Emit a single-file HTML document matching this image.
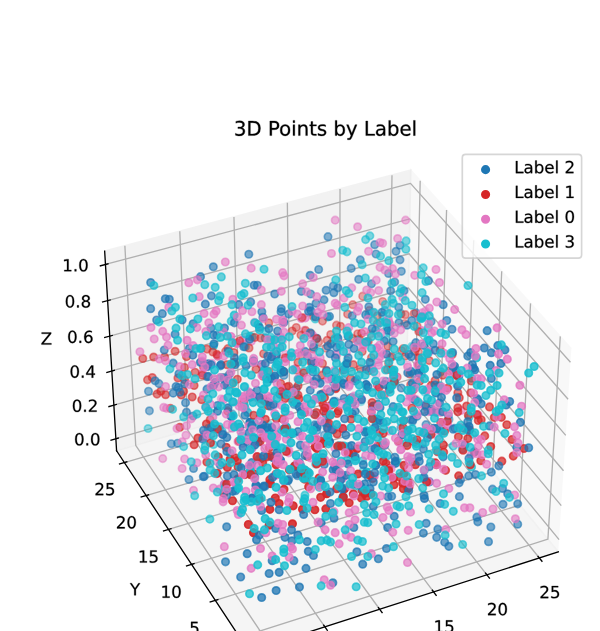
<!DOCTYPE html>
<html><head><meta charset="utf-8"><title>3D Points by Label</title>
<style>
html,body{margin:0;padding:0;background:#fff;}
body{width:600px;height:631px;overflow:hidden;font-family:"Liberation Sans",sans-serif;}
svg{display:block;}
g[id^="text_"] use{stroke:#000;stroke-width:100;stroke-linejoin:round}
.o30{fill-opacity:0.3;stroke-opacity:0.3}.o31{fill-opacity:0.31;stroke-opacity:0.31}.o32{fill-opacity:0.32;stroke-opacity:0.32}.o33{fill-opacity:0.33;stroke-opacity:0.33}.o34{fill-opacity:0.34;stroke-opacity:0.34}.o35{fill-opacity:0.35;stroke-opacity:0.35}.o36{fill-opacity:0.36;stroke-opacity:0.36}.o37{fill-opacity:0.37;stroke-opacity:0.37}.o38{fill-opacity:0.38;stroke-opacity:0.38}.o39{fill-opacity:0.39;stroke-opacity:0.39}.o40{fill-opacity:0.4;stroke-opacity:0.4}.o41{fill-opacity:0.41;stroke-opacity:0.41}.o42{fill-opacity:0.42;stroke-opacity:0.42}.o43{fill-opacity:0.43;stroke-opacity:0.43}.o44{fill-opacity:0.44;stroke-opacity:0.44}.o45{fill-opacity:0.45;stroke-opacity:0.45}.o46{fill-opacity:0.46;stroke-opacity:0.46}.o47{fill-opacity:0.47;stroke-opacity:0.47}.o48{fill-opacity:0.48;stroke-opacity:0.48}.o49{fill-opacity:0.49;stroke-opacity:0.49}.o50{fill-opacity:0.5;stroke-opacity:0.5}.o51{fill-opacity:0.51;stroke-opacity:0.51}.o52{fill-opacity:0.52;stroke-opacity:0.52}.o53{fill-opacity:0.53;stroke-opacity:0.53}.o54{fill-opacity:0.54;stroke-opacity:0.54}.o55{fill-opacity:0.55;stroke-opacity:0.55}.o56{fill-opacity:0.56;stroke-opacity:0.56}.o57{fill-opacity:0.57;stroke-opacity:0.57}.o58{fill-opacity:0.58;stroke-opacity:0.58}.o59{fill-opacity:0.59;stroke-opacity:0.59}.o60{fill-opacity:0.6;stroke-opacity:0.6}.o61{fill-opacity:0.61;stroke-opacity:0.61}.o62{fill-opacity:0.62;stroke-opacity:0.62}.o63{fill-opacity:0.63;stroke-opacity:0.63}.o64{fill-opacity:0.64;stroke-opacity:0.64}.o65{fill-opacity:0.65;stroke-opacity:0.65}.o66{fill-opacity:0.66;stroke-opacity:0.66}.o67{fill-opacity:0.67;stroke-opacity:0.67}.o68{fill-opacity:0.68;stroke-opacity:0.68}.o69{fill-opacity:0.69;stroke-opacity:0.69}.o70{fill-opacity:0.7;stroke-opacity:0.7}.o71{fill-opacity:0.71;stroke-opacity:0.71}.o72{fill-opacity:0.72;stroke-opacity:0.72}.o73{fill-opacity:0.73;stroke-opacity:0.73}.o74{fill-opacity:0.74;stroke-opacity:0.74}.o75{fill-opacity:0.75;stroke-opacity:0.75}.o76{fill-opacity:0.76;stroke-opacity:0.76}.o77{fill-opacity:0.77;stroke-opacity:0.77}.o78{fill-opacity:0.78;stroke-opacity:0.78}.o79{fill-opacity:0.79;stroke-opacity:0.79}.o80{fill-opacity:0.8;stroke-opacity:0.8}.o81{fill-opacity:0.81;stroke-opacity:0.81}.o82{fill-opacity:0.82;stroke-opacity:0.82}.o83{fill-opacity:0.83;stroke-opacity:0.83}.o84{fill-opacity:0.84;stroke-opacity:0.84}.o85{fill-opacity:0.85;stroke-opacity:0.85}.o86{fill-opacity:0.86;stroke-opacity:0.86}.o87{fill-opacity:0.87;stroke-opacity:0.87}.o88{fill-opacity:0.88;stroke-opacity:0.88}.o89{fill-opacity:0.89;stroke-opacity:0.89}.o90{fill-opacity:0.9;stroke-opacity:0.9}.o91{fill-opacity:0.91;stroke-opacity:0.91}.o92{fill-opacity:0.92;stroke-opacity:0.92}.o93{fill-opacity:0.93;stroke-opacity:0.93}.o95{fill-opacity:0.95;stroke-opacity:0.95}.o96{fill-opacity:0.96;stroke-opacity:0.96}.o97{fill-opacity:0.97;stroke-opacity:0.97}.o98{fill-opacity:0.98;stroke-opacity:0.98}.o100{fill-opacity:1;stroke-opacity:1}
</style></head><body>
<svg width="600" height="631" viewBox="0 0 360 378.6">
 <defs>
  <style type="text/css">*{stroke-linejoin: round; stroke-linecap: butt}</style>
 </defs>
 <g id="figure_1">
  <g id="patch_1">
   <path d="M 0 378.6 
L 360 378.6 
L 360 0 
L 0 0 
z
" style="fill: #ffffff"/>
  </g>
  <g id="patch_2">
   <path d="M 36.549567 404.417523 
L 354.056823 404.417523 
L 354.056823 86.910267 
L 36.549567 86.910267 
z
" style="fill: #ffffff"/>
  </g>
  <g id="pane3d_1">
   <g id="patch_3">
    <path d="M 334.979732 331.150698 
L 244.093565 219.975792 
L 246.455213 102.126044 
L 342.805927 209.211899 
" style="fill: #f2f2f2; opacity: 0.5; stroke: #f2f2f2; stroke-linejoin: miter"/>
   </g>
  </g>
  <g id="pane3d_2">
   <g id="patch_4">
    <path d="M 69.954804 270.486491 
L 244.093565 219.975792 
L 246.455213 102.126044 
L 62.796485 150.659851 
" style="fill: #e6e6e6; opacity: 0.5; stroke: #e6e6e6; stroke-linejoin: miter"/>
   </g>
  </g>
  <g id="pane3d_3">
   <g id="patch_5">
    <path d="M 149.328596 390.734936 
L 334.979732 331.150698 
L 244.093565 219.975792 
L 69.954804 270.486491 
" style="fill: #ececec; opacity: 0.5; stroke: #ececec; stroke-linejoin: miter"/>
   </g>
  </g>
  <g id="grid3d_1">
   <g id="Line3DCollection_1">
    <path d="M 156.781001 379.6 
L 81.433066 267.157106 
L 74.925294 147.454682 
" style="fill: none; stroke: #b0b0b0; stroke-width: 0.8"/>
    <path d="M 194.937987 376.096724 
L 112.631511 258.107683 
L 107.875496 138.747234 
" style="fill: none; stroke: #b0b0b0; stroke-width: 0.8"/>
    <path d="M 227.796251 365.550951 
L 143.419057 249.177446 
L 140.368159 130.160696 
" style="fill: none; stroke: #b0b0b0; stroke-width: 0.8"/>
    <path d="M 260.187712 355.154998 
L 173.803768 240.364055 
L 172.412746 121.692567 
" style="fill: none; stroke: #b0b0b0; stroke-width: 0.8"/>
    <path d="M 292.122247 344.905694 
L 203.793499 231.665232 
L 204.018463 113.340415 
" style="fill: none; stroke: #b0b0b0; stroke-width: 0.8"/>
    <path d="M 323.609456 334.799958 
L 233.395903 223.078757 
L 235.194263 105.101872 
" style="fill: none; stroke: #b0b0b0; stroke-width: 0.8"/>
   </g>
  </g>
  <g id="grid3d_2">
   <g id="Line3DCollection_2">
    <path d="M 336.165123 201.831194 
L 328.74168 323.520111 
L 152.825259 379.6 
" style="fill: none; stroke: #b0b0b0; stroke-width: 0.8"/>
    <path d="M 318.329406 182.008268 
L 311.968591 303.002724 
L 129.183595 360.215984 
" style="fill: none; stroke: #b0b0b0; stroke-width: 0.8"/>
    <path d="M 301.029524 162.780879 
L 295.672802 283.069187 
L 114.937502 338.633665 
" style="fill: none; stroke: #b0b0b0; stroke-width: 0.8"/>
    <path d="M 284.241689 144.122588 
L 279.834226 263.694928 
L 101.106961 317.680891 
" style="fill: none; stroke: #b0b0b0; stroke-width: 0.8"/>
    <path d="M 267.943497 126.008496 
L 264.433888 244.856734 
L 87.67405 297.330513 
" style="fill: none; stroke: #b0b0b0; stroke-width: 0.8"/>
    <path d="M 252.113836 108.415136 
L 249.453846 226.532661 
L 74.621864 277.55692 
" style="fill: none; stroke: #b0b0b0; stroke-width: 0.8"/>
   </g>
  </g>
  <g id="grid3d_3">
   <g id="Line3DCollection_3">
    <path d="M 69.521669 263.236034 
L 244.236737 212.8313 
L 335.452189 323.789408 
" style="fill: none; stroke: #b0b0b0; stroke-width: 0.8"/>
    <path d="M 68.318648 243.098073 
L 244.634208 192.996895 
L 336.765163 303.332168 
" style="fill: none; stroke: #b0b0b0; stroke-width: 0.8"/>
    <path d="M 67.093167 222.584128 
L 245.038821 172.806133 
L 338.103761 282.475661 
" style="fill: none; stroke: #b0b0b0; stroke-width: 0.8"/>
    <path d="M 65.844589 201.683571 
L 245.450768 152.249321 
L 339.468743 261.208082 
" style="fill: none; stroke: #b0b0b0; stroke-width: 0.8"/>
    <path d="M 64.572257 180.385366 
L 245.870253 131.316416 
L 340.860895 239.517158 
" style="fill: none; stroke: #b0b0b0; stroke-width: 0.8"/>
    <path d="M 63.275485 158.678058 
L 246.297483 109.996999 
L 342.281038 217.39012 
" style="fill: none; stroke: #b0b0b0; stroke-width: 0.8"/>
   </g>
  </g>
  <g id="axis3d_1">
   <g id="line2d_1">
    <path d="M 334.979732 331.150698 
L 184.022562 379.6 
" style="fill: none; stroke: #000000; stroke-width: 0.8; stroke-linecap: square"/>
   </g>
   <g id="xtick_1">
    <g id="line2d_2">
     <path style="fill: none; stroke: #000000; stroke-width: 0.8; stroke-linecap: square"/>
    </g>
    <g id="text_1">
     <!-- 0 -->
     <g transform="translate(164.648599 411.588777) scale(0.1 -0.1)">
      <defs>
       <path id="DejaVuSans-30" d="M 2034 4250 
Q 1547 4250 1301 3770 
Q 1056 3291 1056 2328 
Q 1056 1369 1301 889 
Q 1547 409 2034 409 
Q 2525 409 2770 889 
Q 3016 1369 3016 2328 
Q 3016 3291 2770 3770 
Q 2525 4250 2034 4250 
z
M 2034 4750 
Q 2819 4750 3233 4129 
Q 3647 3509 3647 2328 
Q 3647 1150 3233 529 
Q 2819 -91 2034 -91 
Q 1250 -91 836 529 
Q 422 1150 422 2328 
Q 422 3509 836 4129 
Q 1250 4750 2034 4750 
z
" transform="scale(0.015625)"/>
      </defs>
      <use href="#DejaVuSans-30"/>
     </g>
    </g>
   </g>
   <g id="xtick_2">
    <g id="line2d_3">
     <path d="M 194.222743 375.071399 
L 196.371465 378.151662 
" style="fill: none; stroke: #000000; stroke-width: 0.8; stroke-linecap: square"/>
    </g>
    <g id="text_2">
     <!-- 5 -->
     <g transform="translate(198.010046 400.742913) scale(0.1 -0.1)">
      <defs>
       <path id="DejaVuSans-35" d="M 691 4666 
L 3169 4666 
L 3169 4134 
L 1269 4134 
L 1269 2991 
Q 1406 3038 1543 3061 
Q 1681 3084 1819 3084 
Q 2600 3084 3056 2656 
Q 3513 2228 3513 1497 
Q 3513 744 3044 326 
Q 2575 -91 1722 -91 
Q 1428 -91 1123 -41 
Q 819 9 494 109 
L 494 744 
Q 775 591 1075 516 
Q 1375 441 1709 441 
Q 2250 441 2565 725 
Q 2881 1009 2881 1497 
Q 2881 1984 2565 2268 
Q 2250 2553 1709 2553 
Q 1456 2553 1204 2497 
Q 953 2441 691 2322 
L 691 4666 
z
" transform="scale(0.015625)"/>
      </defs>
      <use href="#DejaVuSans-35"/>
     </g>
    </g>
   </g>
   <g id="xtick_3">
    <g id="line2d_4">
     <path d="M 227.06343 364.540239 
L 229.264938 367.576571 
" style="fill: none; stroke: #000000; stroke-width: 0.8; stroke-linecap: square"/>
    </g>
    <g id="text_3">
     <!-- 10 -->
     <g transform="translate(227.711889 390.052564) scale(0.1 -0.1)">
      <defs>
       <path id="DejaVuSans-31" d="M 794 531 
L 1825 531 
L 1825 4091 
L 703 3866 
L 703 4441 
L 1819 4666 
L 2450 4666 
L 2450 531 
L 3481 531 
L 3481 0 
L 794 0 
L 794 531 
z
" transform="scale(0.015625)"/>
      </defs>
      <use href="#DejaVuSans-31"/>
      <use href="#DejaVuSans-30" transform="translate(63.623047 0)"/>
     </g>
    </g>
   </g>
   <g id="xtick_4">
    <g id="line2d_5">
     <path d="M 259.437882 354.158589 
L 261.690464 357.151924 
" style="fill: none; stroke: #000000; stroke-width: 0.8; stroke-linecap: square"/>
    </g>
    <g id="text_4">
     <!-- 15 -->
     <g transform="translate(260.126842 379.514407) scale(0.1 -0.1)">
      <use href="#DejaVuSans-31"/>
      <use href="#DejaVuSans-35" transform="translate(63.623047 0)"/>
     </g>
    </g>
   </g>
   <g id="xtick_5">
    <g id="line2d_6">
     <path d="M 291.355959 343.923286 
L 293.65796 346.874531 
" style="fill: none; stroke: #000000; stroke-width: 0.8; stroke-linecap: square"/>
    </g>
    <g id="text_5">
     <!-- 20 -->
     <g transform="translate(292.083581 369.125216) scale(0.1 -0.1)">
      <defs>
       <path id="DejaVuSans-32" d="M 1228 531 
L 3431 531 
L 3431 0 
L 469 0 
L 469 531 
Q 828 903 1448 1529 
Q 2069 2156 2228 2338 
Q 2531 2678 2651 2914 
Q 2772 3150 2772 3378 
Q 2772 3750 2511 3984 
Q 2250 4219 1831 4219 
Q 1534 4219 1204 4116 
Q 875 4013 500 3803 
L 500 4441 
Q 881 4594 1212 4672 
Q 1544 4750 1819 4750 
Q 2544 4750 2975 4387 
Q 3406 4025 3406 3419 
Q 3406 3131 3298 2873 
Q 3191 2616 2906 2266 
Q 2828 2175 2409 1742 
Q 1991 1309 1228 531 
z
" transform="scale(0.015625)"/>
      </defs>
      <use href="#DejaVuSans-32"/>
      <use href="#DejaVuSans-30" transform="translate(63.623047 0)"/>
     </g>
    </g>
   </g>
   <g id="xtick_6">
    <g id="line2d_7">
     <path d="M 322.827242 333.831259 
L 325.177062 336.741294 
" style="fill: none; stroke: #000000; stroke-width: 0.8; stroke-linecap: square"/>
    </g>
    <g id="text_6">
     <!-- 25 -->
     <g transform="translate(323.591755 358.881855) scale(0.1 -0.1)">
      <use href="#DejaVuSans-32"/>
      <use href="#DejaVuSans-35" transform="translate(63.623047 0)"/>
     </g>
    </g>
   </g>
   <g id="text_7">
    <!-- X -->
    <g transform="translate(254.332717 399.775613) scale(0.1 -0.1)">
     <defs>
      <path id="DejaVuSans-58" d="M 403 4666 
L 1081 4666 
L 2241 2931 
L 3406 4666 
L 4084 4666 
L 2584 2425 
L 4184 0 
L 3506 0 
L 2194 1984 
L 872 0 
L 191 0 
L 1856 2491 
L 403 4666 
z
" transform="scale(0.015625)"/>
     </defs>
     <use href="#DejaVuSans-58"/>
    </g>
   </g>
  </g>
  <g id="axis3d_2">
   <g id="line2d_8">
    <path d="M 69.954804 270.486491 
L 141.978629 379.6 
" style="fill: none; stroke: #000000; stroke-width: 0.8; stroke-linecap: square"/>
   </g>
   <g id="xtick_7">
    <g id="line2d_9">
     <path style="fill: none; stroke: #000000; stroke-width: 0.8; stroke-linecap: square"/>
    </g>
    <g id="text_8" transform="translate(0.5 0.4)">
     <!-- 0 -->
     <g transform="translate(127.526515 402.412792) scale(0.1 -0.1)">
      <use href="#DejaVuSans-30"/>
     </g>
    </g>
   </g>
   <g id="xtick_8">
    <g id="line2d_10">
     <path d="M 130.705094 359.739741 
L 126.137613 361.169402 
" style="fill: none; stroke: #000000; stroke-width: 0.8; stroke-linecap: square"/>
    </g>
    <g id="text_9" transform="translate(0.5 0.4)">
     <!-- 5 -->
     <g transform="translate(113.05852 380.009719) scale(0.1 -0.1)">
      <use href="#DejaVuSans-35"/>
     </g>
    </g>
   </g>
   <g id="xtick_9">
    <g id="line2d_11">
     <path d="M 116.441073 338.171413 
L 111.927455 339.55906 
" style="fill: none; stroke: #000000; stroke-width: 0.8; stroke-linecap: square"/>
    </g>
    <g id="text_10" transform="translate(0.5 0.4)">
     <!-- 10 -->
     <g transform="translate(95.837106 358.269128) scale(0.1 -0.1)">
      <use href="#DejaVuSans-31"/>
      <use href="#DejaVuSans-30" transform="translate(63.623047 0)"/>
     </g>
    </g>
   </g>
   <g id="xtick_10">
    <g id="line2d_12">
     <path d="M 102.592995 317.232022 
L 98.132063 318.579482 
" style="fill: none; stroke: #000000; stroke-width: 0.8; stroke-linecap: square"/>
    </g>
    <g id="text_11" transform="translate(0.5 0.4)">
     <!-- 15 -->
     <g transform="translate(82.206075 337.16206) scale(0.1 -0.1)">
      <use href="#DejaVuSans-31"/>
      <use href="#DejaVuSans-35" transform="translate(63.623047 0)"/>
     </g>
    </g>
   </g>
   <g id="xtick_11">
    <g id="line2d_13">
     <path d="M 89.142926 296.894455 
L 84.733539 298.203447 
" style="fill: none; stroke: #000000; stroke-width: 0.8; stroke-linecap: square"/>
    </g>
    <g id="text_12" transform="translate(0.5 0.4)">
     <!-- 20 -->
     <g transform="translate(68.96655 316.661222) scale(0.1 -0.1)">
      <use href="#DejaVuSans-32"/>
      <use href="#DejaVuSans-30" transform="translate(63.623047 0)"/>
     </g>
    </g>
   </g>
   <g id="xtick_12">
    <g id="line2d_14">
     <path d="M 76.073952 277.133132 
L 71.715 278.405281 
" style="fill: none; stroke: #000000; stroke-width: 0.8; stroke-linecap: square"/>
    </g>
    <g id="text_13" transform="translate(0.5 0.4)">
     <!-- 25 -->
     <g transform="translate(56.101903 296.740866) scale(0.1 -0.1)">
      <use href="#DejaVuSans-32"/>
      <use href="#DejaVuSans-35" transform="translate(63.623047 0)"/>
     </g>
    </g>
   </g>
   <g id="text_14" transform="translate(0.5 0.4)">
    <!-- Y -->
    <g transform="translate(77.477666 356.807466) scale(0.1 -0.1)">
     <defs>
      <path id="DejaVuSans-59" d="M -13 4666 
L 666 4666 
L 1959 2747 
L 3244 4666 
L 3922 4666 
L 2272 2222 
L 2272 0 
L 1638 0 
L 1638 2222 
L -13 4666 
z
" transform="scale(0.015625)"/>
     </defs>
     <use href="#DejaVuSans-59"/>
    </g>
   </g>
  </g>
  <g id="axis3d_3">
   <g id="line2d_15">
    <path d="M 69.954804 270.486491 
L 62.796485 150.659851 
" style="fill: none; stroke: #000000; stroke-width: 0.8; stroke-linecap: square"/>
   </g>
   <g id="xtick_13">
    <g id="line2d_16">
     <path d="M 70.972689 262.817419 
L 66.616948 264.074036 
" style="fill: none; stroke: #000000; stroke-width: 0.8; stroke-linecap: square"/>
    </g>
    <g id="text_15" transform="translate(0.5 0.4)">
     <!-- 0.0 -->
     <g transform="translate(43.916752 266.814736) scale(0.1 -0.1)">
      <defs>
       <path id="DejaVuSans-2e" d="M 684 794 
L 1344 794 
L 1344 0 
L 684 0 
L 684 794 
z
" transform="scale(0.015625)"/>
      </defs>
      <use href="#DejaVuSans-30"/>
      <use href="#DejaVuSans-2e" transform="translate(63.623047 0)"/>
      <use href="#DejaVuSans-30" transform="translate(95.410156 0)"/>
     </g>
    </g>
   </g>
   <g id="xtick_14">
    <g id="line2d_17">
     <path d="M 69.783458 242.681838 
L 65.386298 243.931319 
" style="fill: none; stroke: #000000; stroke-width: 0.8; stroke-linecap: square"/>
    </g>
    <g id="text_16" transform="translate(0.5 0.4)">
     <!-- 0.2 -->
     <g transform="translate(42.55453 246.699725) scale(0.1 -0.1)">
      <use href="#DejaVuSans-30"/>
      <use href="#DejaVuSans-2e" transform="translate(63.623047 0)"/>
      <use href="#DejaVuSans-32" transform="translate(95.410156 0)"/>
     </g>
    </g>
   </g>
   <g id="xtick_15">
    <g id="line2d_18">
     <path d="M 68.57203 222.170435 
L 64.132656 223.412293 
" style="fill: none; stroke: #000000; stroke-width: 0.8; stroke-linecap: square"/>
    </g>
    <g id="text_17" transform="translate(0.5 0.4)">
     <!-- 0.4 -->
     <g transform="translate(41.166951 226.210288) scale(0.1 -0.1)">
      <defs>
       <path id="DejaVuSans-34" d="M 2419 4116 
L 825 1625 
L 2419 1625 
L 2419 4116 
z
M 2253 4666 
L 3047 4666 
L 3047 1625 
L 3713 1625 
L 3713 1100 
L 3047 1100 
L 3047 0 
L 2419 0 
L 2419 1100 
L 313 1100 
L 313 1709 
L 2253 4666 
z
" transform="scale(0.015625)"/>
      </defs>
      <use href="#DejaVuSans-30"/>
      <use href="#DejaVuSans-2e" transform="translate(63.623047 0)"/>
      <use href="#DejaVuSans-34" transform="translate(95.410156 0)"/>
     </g>
    </g>
   </g>
   <g id="xtick_16">
    <g id="line2d_19">
     <path d="M 67.337779 201.27259 
L 62.855373 202.506313 
" style="fill: none; stroke: #000000; stroke-width: 0.8; stroke-linecap: square"/>
    </g>
    <g id="text_18" transform="translate(0.5 0.4)">
     <!-- 0.6 -->
     <g transform="translate(39.7533 205.335871) scale(0.1 -0.1)">
      <defs>
       <path id="DejaVuSans-36" d="M 2113 2584 
Q 1688 2584 1439 2293 
Q 1191 2003 1191 1497 
Q 1191 994 1439 701 
Q 1688 409 2113 409 
Q 2538 409 2786 701 
Q 3034 994 3034 1497 
Q 3034 2003 2786 2293 
Q 2538 2584 2113 2584 
z
M 3366 4563 
L 3366 3988 
Q 3128 4100 2886 4159 
Q 2644 4219 2406 4219 
Q 1781 4219 1451 3797 
Q 1122 3375 1075 2522 
Q 1259 2794 1537 2939 
Q 1816 3084 2150 3084 
Q 2853 3084 3261 2657 
Q 3669 2231 3669 1497 
Q 3669 778 3244 343 
Q 2819 -91 2113 -91 
Q 1303 -91 875 529 
Q 447 1150 447 2328 
Q 447 3434 972 4092 
Q 1497 4750 2381 4750 
Q 2619 4750 2861 4703 
Q 3103 4656 3366 4563 
z
" transform="scale(0.015625)"/>
      </defs>
      <use href="#DejaVuSans-30"/>
      <use href="#DejaVuSans-2e" transform="translate(63.623047 0)"/>
      <use href="#DejaVuSans-36" transform="translate(95.410156 0)"/>
     </g>
    </g>
   </g>
   <g id="xtick_17">
    <g id="line2d_20">
     <path d="M 66.080053 179.977276 
L 61.553774 181.20233 
" style="fill: none; stroke: #000000; stroke-width: 0.8; stroke-linecap: square"/>
    </g>
    <g id="text_19" transform="translate(0.5 0.4)">
     <!-- 0.8 -->
     <g transform="translate(38.312836 184.065523) scale(0.1 -0.1)">
      <defs>
       <path id="DejaVuSans-38" d="M 2034 2216 
Q 1584 2216 1326 1975 
Q 1069 1734 1069 1313 
Q 1069 891 1326 650 
Q 1584 409 2034 409 
Q 2484 409 2743 651 
Q 3003 894 3003 1313 
Q 3003 1734 2745 1975 
Q 2488 2216 2034 2216 
z
M 1403 2484 
Q 997 2584 770 2862 
Q 544 3141 544 3541 
Q 544 4100 942 4425 
Q 1341 4750 2034 4750 
Q 2731 4750 3128 4425 
Q 3525 4100 3525 3541 
Q 3525 3141 3298 2862 
Q 3072 2584 2669 2484 
Q 3125 2378 3379 2068 
Q 3634 1759 3634 1313 
Q 3634 634 3220 271 
Q 2806 -91 2034 -91 
Q 1263 -91 848 271 
Q 434 634 434 1313 
Q 434 1759 690 2068 
Q 947 2378 1403 2484 
z
M 1172 3481 
Q 1172 3119 1398 2916 
Q 1625 2713 2034 2713 
Q 2441 2713 2670 2916 
Q 2900 3119 2900 3481 
Q 2900 3844 2670 4047 
Q 2441 4250 2034 4250 
Q 1625 4250 1398 4047 
Q 1172 3844 1172 3481 
z
" transform="scale(0.015625)"/>
      </defs>
      <use href="#DejaVuSans-30"/>
      <use href="#DejaVuSans-2e" transform="translate(63.623047 0)"/>
      <use href="#DejaVuSans-38" transform="translate(95.410156 0)"/>
     </g>
    </g>
   </g>
   <g id="xtick_18">
    <g id="line2d_21">
     <path d="M 64.798175 158.273046 
L 60.227156 159.488867 
" style="fill: none; stroke: #000000; stroke-width: 0.8; stroke-linecap: square"/>
    </g>
    <g id="text_20" transform="translate(0.5 0.4)">
     <!-- 1.0 -->
     <g transform="translate(36.844789 162.387871) scale(0.1 -0.1)">
      <use href="#DejaVuSans-31"/>
      <use href="#DejaVuSans-2e" transform="translate(63.623047 0)"/>
      <use href="#DejaVuSans-30" transform="translate(95.410156 0)"/>
     </g>
    </g>
   </g>
   <g id="text_21" transform="translate(0.5 0.4)">
    <!-- Z -->
    <g transform="translate(23.931631 206.365231) scale(0.1 -0.1)">
     <defs>
      <path id="DejaVuSans-5a" d="M 359 4666 
L 4025 4666 
L 4025 4184 
L 1075 531 
L 4097 531 
L 4097 0 
L 288 0 
L 288 481 
L 3238 4134 
L 359 4134 
L 359 4666 
z
" transform="scale(0.015625)"/>
     </defs>
     <use href="#DejaVuSans-5a"/>
    </g>
   </g>
  </g>
  <g id="axes_1">
   <g id="text_22">
    <!-- 3D Points by Label -->
    <g transform="translate(140.3558 81.3603) scale(0.11832 -0.12)">
     <defs>
      <path id="DejaVuSans-33" d="M 2597 2516 
Q 3050 2419 3304 2112 
Q 3559 1806 3559 1356 
Q 3559 666 3084 287 
Q 2609 -91 1734 -91 
Q 1441 -91 1130 -33 
Q 819 25 488 141 
L 488 750 
Q 750 597 1062 519 
Q 1375 441 1716 441 
Q 2309 441 2620 675 
Q 2931 909 2931 1356 
Q 2931 1769 2642 2001 
Q 2353 2234 1838 2234 
L 1294 2234 
L 1294 2753 
L 1863 2753 
Q 2328 2753 2575 2939 
Q 2822 3125 2822 3475 
Q 2822 3834 2567 4026 
Q 2313 4219 1838 4219 
Q 1578 4219 1281 4162 
Q 984 4106 628 3988 
L 628 4550 
Q 988 4650 1302 4700 
Q 1616 4750 1894 4750 
Q 2613 4750 3031 4423 
Q 3450 4097 3450 3541 
Q 3450 3153 3228 2886 
Q 3006 2619 2597 2516 
z
" transform="scale(0.015625)"/>
      <path id="DejaVuSans-44" d="M 1259 4147 
L 1259 519 
L 2022 519 
Q 2988 519 3436 956 
Q 3884 1394 3884 2338 
Q 3884 3275 3436 3711 
Q 2988 4147 2022 4147 
L 1259 4147 
z
M 628 4666 
L 1925 4666 
Q 3281 4666 3915 4102 
Q 4550 3538 4550 2338 
Q 4550 1131 3912 565 
Q 3275 0 1925 0 
L 628 0 
L 628 4666 
z
" transform="scale(0.015625)"/>
      <path id="DejaVuSans-20" transform="scale(0.015625)"/>
      <path id="DejaVuSans-50" d="M 1259 4147 
L 1259 2394 
L 2053 2394 
Q 2494 2394 2734 2622 
Q 2975 2850 2975 3272 
Q 2975 3691 2734 3919 
Q 2494 4147 2053 4147 
L 1259 4147 
z
M 628 4666 
L 2053 4666 
Q 2838 4666 3239 4311 
Q 3641 3956 3641 3272 
Q 3641 2581 3239 2228 
Q 2838 1875 2053 1875 
L 1259 1875 
L 1259 0 
L 628 0 
L 628 4666 
z
" transform="scale(0.015625)"/>
      <path id="DejaVuSans-6f" d="M 1959 3097 
Q 1497 3097 1228 2736 
Q 959 2375 959 1747 
Q 959 1119 1226 758 
Q 1494 397 1959 397 
Q 2419 397 2687 759 
Q 2956 1122 2956 1747 
Q 2956 2369 2687 2733 
Q 2419 3097 1959 3097 
z
M 1959 3584 
Q 2709 3584 3137 3096 
Q 3566 2609 3566 1747 
Q 3566 888 3137 398 
Q 2709 -91 1959 -91 
Q 1206 -91 779 398 
Q 353 888 353 1747 
Q 353 2609 779 3096 
Q 1206 3584 1959 3584 
z
" transform="scale(0.015625)"/>
      <path id="DejaVuSans-69" d="M 603 3500 
L 1178 3500 
L 1178 0 
L 603 0 
L 603 3500 
z
M 603 4863 
L 1178 4863 
L 1178 4134 
L 603 4134 
L 603 4863 
z
" transform="scale(0.015625)"/>
      <path id="DejaVuSans-6e" d="M 3513 2113 
L 3513 0 
L 2938 0 
L 2938 2094 
Q 2938 2591 2744 2837 
Q 2550 3084 2163 3084 
Q 1697 3084 1428 2787 
Q 1159 2491 1159 1978 
L 1159 0 
L 581 0 
L 581 3500 
L 1159 3500 
L 1159 2956 
Q 1366 3272 1645 3428 
Q 1925 3584 2291 3584 
Q 2894 3584 3203 3211 
Q 3513 2838 3513 2113 
z
" transform="scale(0.015625)"/>
      <path id="DejaVuSans-74" d="M 1172 4494 
L 1172 3500 
L 2356 3500 
L 2356 3053 
L 1172 3053 
L 1172 1153 
Q 1172 725 1289 603 
Q 1406 481 1766 481 
L 2356 481 
L 2356 0 
L 1766 0 
Q 1100 0 847 248 
Q 594 497 594 1153 
L 594 3053 
L 172 3053 
L 172 3500 
L 594 3500 
L 594 4494 
L 1172 4494 
z
" transform="scale(0.015625)"/>
      <path id="DejaVuSans-73" d="M 2834 3397 
L 2834 2853 
Q 2591 2978 2328 3040 
Q 2066 3103 1784 3103 
Q 1356 3103 1142 2972 
Q 928 2841 928 2578 
Q 928 2378 1081 2264 
Q 1234 2150 1697 2047 
L 1894 2003 
Q 2506 1872 2764 1633 
Q 3022 1394 3022 966 
Q 3022 478 2636 193 
Q 2250 -91 1575 -91 
Q 1294 -91 989 -36 
Q 684 19 347 128 
L 347 722 
Q 666 556 975 473 
Q 1284 391 1588 391 
Q 1994 391 2212 530 
Q 2431 669 2431 922 
Q 2431 1156 2273 1281 
Q 2116 1406 1581 1522 
L 1381 1569 
Q 847 1681 609 1914 
Q 372 2147 372 2553 
Q 372 3047 722 3315 
Q 1072 3584 1716 3584 
Q 2034 3584 2315 3537 
Q 2597 3491 2834 3397 
z
" transform="scale(0.015625)"/>
      <path id="DejaVuSans-62" d="M 3116 1747 
Q 3116 2381 2855 2742 
Q 2594 3103 2138 3103 
Q 1681 3103 1420 2742 
Q 1159 2381 1159 1747 
Q 1159 1113 1420 752 
Q 1681 391 2138 391 
Q 2594 391 2855 752 
Q 3116 1113 3116 1747 
z
M 1159 2969 
Q 1341 3281 1617 3432 
Q 1894 3584 2278 3584 
Q 2916 3584 3314 3078 
Q 3713 2572 3713 1747 
Q 3713 922 3314 415 
Q 2916 -91 2278 -91 
Q 1894 -91 1617 61 
Q 1341 213 1159 525 
L 1159 0 
L 581 0 
L 581 4863 
L 1159 4863 
L 1159 2969 
z
" transform="scale(0.015625)"/>
      <path id="DejaVuSans-79" d="M 2059 -325 
Q 1816 -950 1584 -1140 
Q 1353 -1331 966 -1331 
L 506 -1331 
L 506 -850 
L 844 -850 
Q 1081 -850 1212 -737 
Q 1344 -625 1503 -206 
L 1606 56 
L 191 3500 
L 800 3500 
L 1894 763 
L 2988 3500 
L 3597 3500 
L 2059 -325 
z
" transform="scale(0.015625)"/>
      <path id="DejaVuSans-4c" d="M 628 4666 
L 1259 4666 
L 1259 531 
L 3531 531 
L 3531 0 
L 628 0 
L 628 4666 
z
" transform="scale(0.015625)"/>
      <path id="DejaVuSans-61" d="M 2194 1759 
Q 1497 1759 1228 1600 
Q 959 1441 959 1056 
Q 959 750 1161 570 
Q 1363 391 1709 391 
Q 2188 391 2477 730 
Q 2766 1069 2766 1631 
L 2766 1759 
L 2194 1759 
z
M 3341 1997 
L 3341 0 
L 2766 0 
L 2766 531 
Q 2569 213 2275 61 
Q 1981 -91 1556 -91 
Q 1019 -91 701 211 
Q 384 513 384 1019 
Q 384 1609 779 1909 
Q 1175 2209 1959 2209 
L 2766 2209 
L 2766 2266 
Q 2766 2663 2505 2880 
Q 2244 3097 1772 3097 
Q 1472 3097 1187 3025 
Q 903 2953 641 2809 
L 641 3341 
Q 956 3463 1253 3523 
Q 1550 3584 1831 3584 
Q 2591 3584 2966 3190 
Q 3341 2797 3341 1997 
z
" transform="scale(0.015625)"/>
      <path id="DejaVuSans-65" d="M 3597 1894 
L 3597 1613 
L 953 1613 
Q 991 1019 1311 708 
Q 1631 397 2203 397 
Q 2534 397 2845 478 
Q 3156 559 3463 722 
L 3463 178 
Q 3153 47 2828 -22 
Q 2503 -91 2169 -91 
Q 1331 -91 842 396 
Q 353 884 353 1716 
Q 353 2575 817 3079 
Q 1281 3584 2069 3584 
Q 2775 3584 3186 3129 
Q 3597 2675 3597 1894 
z
M 3022 2063 
Q 3016 2534 2758 2815 
Q 2500 3097 2075 3097 
Q 1594 3097 1305 2825 
Q 1016 2553 972 2059 
L 3022 2063 
z
" transform="scale(0.015625)"/>
      <path id="DejaVuSans-6c" d="M 603 4863 
L 1178 4863 
L 1178 0 
L 603 0 
L 603 4863 
z
" transform="scale(0.015625)"/>
     </defs>
     <use href="#DejaVuSans-33"/>
     <use href="#DejaVuSans-44" transform="translate(63.623047 0)"/>
     <use href="#DejaVuSans-20" transform="translate(140.625 0)"/>
     <use href="#DejaVuSans-50" transform="translate(172.412109 0)"/>
     <use href="#DejaVuSans-6f" transform="translate(229.089844 0)"/>
     <use href="#DejaVuSans-69" transform="translate(290.271484 0)"/>
     <use href="#DejaVuSans-6e" transform="translate(318.054688 0)"/>
     <use href="#DejaVuSans-74" transform="translate(381.433594 0)"/>
     <use href="#DejaVuSans-73" transform="translate(420.642578 0)"/>
     <use href="#DejaVuSans-20" transform="translate(472.742188 0)"/>
     <use href="#DejaVuSans-62" transform="translate(504.529297 0)"/>
     <use href="#DejaVuSans-79" transform="translate(568.005859 0)"/>
     <use href="#DejaVuSans-20" transform="translate(627.185547 0)"/>
     <use href="#DejaVuSans-4c" transform="translate(658.972656 0)"/>
     <use href="#DejaVuSans-61" transform="translate(714.685547 0)"/>
     <use href="#DejaVuSans-62" transform="translate(775.964844 0)"/>
     <use href="#DejaVuSans-65" transform="translate(839.441406 0)"/>
     <use href="#DejaVuSans-6c" transform="translate(900.964844 0)"/>
    </g>
   </g>
   <g id="points"><g fill="#d62728" stroke="#d62728"><circle class="o30" cx="222.41" cy="200.22" r="2.236"/><circle class="o30" cx="234.00" cy="194.64" r="2.236"/><circle class="o34" cx="242.76" cy="194.11" r="2.236"/><circle class="o35" cx="195.61" cy="208.94" r="2.236"/><circle class="o36" cx="251.09" cy="211.08" r="2.236"/><circle class="o38" cx="180.90" cy="212.93" r="2.236"/><circle class="o38" cx="221.56" cy="186.23" r="2.236"/><circle class="o39" cx="191.19" cy="205.15" r="2.236"/><circle class="o39" cx="241.95" cy="209.09" r="2.236"/><circle class="o39" cx="233.11" cy="218.07" r="2.236"/><circle class="o40" cx="165.69" cy="212.80" r="2.236"/><circle class="o41" cx="195.91" cy="222.12" r="2.236"/><circle class="o41" cx="214.62" cy="200.26" r="2.236"/><circle class="o42" cx="188.07" cy="189.93" r="2.236"/><circle class="o42" cx="241.00" cy="210.46" r="2.236"/><circle class="o43" cx="234.65" cy="221.66" r="2.236"/><circle class="o43" cx="178.00" cy="222.17" r="2.236"/><circle class="o43" cx="240.64" cy="188.47" r="2.236"/><circle class="o44" cx="135.35" cy="210.82" r="2.236"/><circle class="o44" cx="215.94" cy="204.09" r="2.236"/><circle class="o44" cx="238.28" cy="226.21" r="2.236"/><circle class="o44" cx="243.20" cy="213.67" r="2.236"/><circle class="o45" cx="226.42" cy="194.17" r="2.236"/><circle class="o45" cx="250.29" cy="195.69" r="2.236"/><circle class="o45" cx="187.94" cy="209.38" r="2.236"/><circle class="o45" cx="269.68" cy="222.50" r="2.236"/><circle class="o46" cx="246.37" cy="230.80" r="2.236"/><circle class="o46" cx="249.93" cy="208.82" r="2.236"/><circle class="o46" cx="222.86" cy="214.59" r="2.236"/><circle class="o47" cx="251.15" cy="219.19" r="2.236"/><circle class="o47" cx="161.37" cy="222.75" r="2.236"/><circle class="o47" cx="205.93" cy="222.04" r="2.236"/><circle class="o47" cx="193.79" cy="236.11" r="2.236"/><circle class="o48" cx="160.50" cy="226.99" r="2.236"/><circle class="o48" cx="186.64" cy="200.15" r="2.236"/><circle class="o48" cx="220.93" cy="204.87" r="2.236"/><circle class="o49" cx="226.46" cy="231.05" r="2.236"/><circle class="o49" cx="245.83" cy="224.43" r="2.236"/><circle class="o51" cx="141.51" cy="205.80" r="2.236"/><circle class="o51" cx="230.40" cy="237.04" r="2.236"/><circle class="o51" cx="271.35" cy="212.72" r="2.236"/><circle class="o52" cx="175.10" cy="239.41" r="2.236"/><circle class="o52" cx="210.19" cy="238.79" r="2.236"/><circle class="o52" cx="232.38" cy="221.81" r="2.236"/><circle class="o52" cx="159.14" cy="240.09" r="2.236"/><circle class="o52" cx="202.67" cy="228.09" r="2.236"/><circle class="o52" cx="273.97" cy="225.32" r="2.236"/><circle class="o53" cx="222.77" cy="247.37" r="2.236"/><circle class="o53" cx="122.11" cy="220.14" r="2.236"/><circle class="o53" cx="140.47" cy="217.67" r="2.236"/><circle class="o54" cx="130.57" cy="213.51" r="2.236"/><circle class="o54" cx="264.18" cy="210.04" r="2.236"/><circle class="o54" cx="172.14" cy="232.20" r="2.236"/><circle class="o54" cx="188.50" cy="217.88" r="2.236"/><circle class="o55" cx="192.58" cy="239.99" r="2.236"/><circle class="o55" cx="221.26" cy="222.42" r="2.236"/><circle class="o55" cx="157.91" cy="225.78" r="2.236"/><circle class="o55" cx="139.21" cy="218.66" r="2.236"/><circle class="o55" cx="126.08" cy="251.85" r="2.236"/><circle class="o55" cx="186.69" cy="217.40" r="2.236"/><circle class="o55" cx="140.49" cy="217.30" r="2.236"/><circle class="o56" cx="247.87" cy="234.07" r="2.236"/><circle class="o56" cx="168.44" cy="230.06" r="2.236"/><circle class="o56" cx="146.23" cy="241.26" r="2.236"/><circle class="o57" cx="198.70" cy="243.10" r="2.236"/><circle class="o57" cx="255.54" cy="243.86" r="2.236"/><circle class="o58" cx="258.72" cy="231.31" r="2.236"/><circle class="o58" cx="223.37" cy="243.84" r="2.236"/><circle class="o59" cx="156.47" cy="239.49" r="2.236"/><circle class="o59" cx="282.47" cy="235.63" r="2.236"/><circle class="o59" cx="170.17" cy="223.03" r="2.236"/><circle class="o59" cx="136.73" cy="246.83" r="2.236"/><circle class="o60" cx="251.84" cy="228.68" r="2.236"/><circle class="o60" cx="201.40" cy="232.68" r="2.236"/><circle class="o61" cx="169.45" cy="251.22" r="2.236"/><circle class="o61" cx="268.63" cy="232.86" r="2.236"/><circle class="o62" cx="233.65" cy="233.64" r="2.236"/><circle class="o62" cx="196.81" cy="257.42" r="2.236"/><circle class="o62" cx="139.37" cy="230.13" r="2.236"/><circle class="o62" cx="199.99" cy="257.86" r="2.236"/><circle class="o63" cx="158.83" cy="240.68" r="2.236"/><circle class="o63" cx="242.29" cy="252.39" r="2.236"/><circle class="o64" cx="275.57" cy="238.61" r="2.236"/><circle class="o64" cx="247.16" cy="244.80" r="2.236"/><circle class="o64" cx="193.91" cy="242.62" r="2.236"/><circle class="o65" cx="227.90" cy="259.34" r="2.236"/><circle class="o65" cx="179.39" cy="239.33" r="2.236"/><circle class="o65" cx="201.40" cy="233.24" r="2.236"/><circle class="o66" cx="160.87" cy="243.43" r="2.236"/><circle class="o66" cx="262.54" cy="271.01" r="2.236"/><circle class="o66" cx="194.70" cy="238.53" r="2.236"/><circle class="o66" cx="189.77" cy="247.47" r="2.236"/><circle class="o67" cx="165.89" cy="251.21" r="2.236"/><circle class="o67" cx="198.00" cy="249.30" r="2.236"/><circle class="o67" cx="266.20" cy="271.26" r="2.236"/><circle class="o67" cx="239.07" cy="264.72" r="2.236"/><circle class="o68" cx="157.21" cy="262.72" r="2.236"/><circle class="o68" cx="231.61" cy="278.10" r="2.236"/><circle class="o68" cx="124.13" cy="277.23" r="2.236"/><circle class="o69" cx="172.10" cy="256.86" r="2.236"/><circle class="o69" cx="229.62" cy="267.15" r="2.236"/><circle class="o69" cx="190.17" cy="263.85" r="2.236"/><circle class="o70" cx="184.55" cy="273.88" r="2.236"/><circle class="o70" cx="266.77" cy="258.65" r="2.236"/><circle class="o71" cx="161.57" cy="268.61" r="2.236"/><circle class="o71" cx="202.95" cy="246.68" r="2.236"/><circle class="o72" cx="284.73" cy="271.27" r="2.236"/><circle class="o72" cx="226.71" cy="267.63" r="2.236"/><circle class="o72" cx="143.19" cy="264.78" r="2.236"/><circle class="o72" cx="160.30" cy="274.12" r="2.236"/><circle class="o72" cx="264.49" cy="253.57" r="2.236"/><circle class="o72" cx="223.53" cy="287.15" r="2.236"/><circle class="o73" cx="267.38" cy="282.22" r="2.236"/><circle class="o73" cx="278.49" cy="257.03" r="2.236"/><circle class="o73" cx="182.78" cy="247.51" r="2.236"/><circle class="o73" cx="146.90" cy="284.78" r="2.236"/><circle class="o74" cx="261.84" cy="278.79" r="2.236"/><circle class="o75" cx="152.32" cy="284.30" r="2.236"/><circle class="o75" cx="142.82" cy="280.12" r="2.236"/><circle class="o76" cx="209.22" cy="271.96" r="2.236"/><circle class="o76" cx="191.34" cy="286.86" r="2.236"/><circle class="o77" cx="281.74" cy="257.84" r="2.236"/><circle class="o77" cx="239.65" cy="286.22" r="2.236"/><circle class="o77" cx="174.36" cy="260.36" r="2.236"/><circle class="o77" cx="131.49" cy="257.45" r="2.236"/><circle class="o77" cx="156.62" cy="275.12" r="2.236"/><circle class="o78" cx="161.90" cy="287.78" r="2.236"/><circle class="o79" cx="162.24" cy="290.19" r="2.236"/><circle class="o79" cx="182.87" cy="287.50" r="2.236"/><circle class="o79" cx="176.96" cy="279.97" r="2.236"/><circle class="o79" cx="173.59" cy="281.91" r="2.236"/><circle class="o80" cx="180.18" cy="284.35" r="2.236"/><circle class="o80" cx="248.51" cy="265.07" r="2.236"/><circle class="o81" cx="222.69" cy="296.33" r="2.236"/><circle class="o81" cx="134.37" cy="295.97" r="2.236"/><circle class="o81" cx="245.34" cy="292.41" r="2.236"/><circle class="o81" cx="220.10" cy="297.75" r="2.236"/><circle class="o82" cx="189.12" cy="268.07" r="2.236"/><circle class="o82" cx="138.06" cy="275.59" r="2.236"/><circle class="o82" cx="193.94" cy="266.00" r="2.236"/><circle class="o82" cx="130.98" cy="274.17" r="2.236"/><circle class="o82" cx="214.24" cy="269.27" r="2.236"/><circle class="o82" cx="261.10" cy="277.71" r="2.236"/><circle class="o82" cx="182.04" cy="283.33" r="2.236"/><circle class="o82" cx="190.11" cy="269.16" r="2.236"/><circle class="o82" cx="142.51" cy="287.51" r="2.236"/><circle class="o84" cx="183.02" cy="282.23" r="2.236"/><circle class="o84" cx="208.80" cy="271.69" r="2.236"/><circle class="o85" cx="241.57" cy="289.94" r="2.236"/><circle class="o85" cx="184.23" cy="284.91" r="2.236"/><circle class="o85" cx="165.68" cy="278.86" r="2.236"/><circle class="o86" cx="165.49" cy="284.65" r="2.236"/><circle class="o87" cx="244.70" cy="293.13" r="2.236"/><circle class="o88" cx="242.31" cy="284.18" r="2.236"/><circle class="o89" cx="233.29" cy="281.16" r="2.236"/><circle class="o90" cx="244.93" cy="289.38" r="2.236"/><circle class="o91" cx="236.02" cy="286.78" r="2.236"/><circle class="o92" cx="190.75" cy="289.25" r="2.236"/><circle class="o95" cx="217.56" cy="294.52" r="2.236"/><circle class="o96" cx="206.71" cy="293.26" r="2.236"/><circle class="o97" cx="195.98" cy="296.26" r="2.236"/><circle class="o97" cx="155.54" cy="299.44" r="2.236"/></g><g fill="#1f77b4" stroke="#1f77b4"><circle class="o34" cx="234.35" cy="214.56" r="2.236"/><circle class="o35" cx="187.44" cy="221.18" r="2.236"/><circle class="o36" cx="199.95" cy="229.46" r="2.236"/><circle class="o37" cx="201.59" cy="240.84" r="2.236"/><circle class="o37" cx="227.17" cy="237.37" r="2.236"/><circle class="o38" cx="160.61" cy="226.60" r="2.236"/><circle class="o38" cx="139.38" cy="248.31" r="2.236"/><circle class="o38" cx="247.47" cy="252.97" r="2.236"/><circle class="o39" cx="158.40" cy="225.22" r="2.236"/><circle class="o39" cx="129.21" cy="255.47" r="2.236"/><circle class="o39" cx="205.97" cy="228.09" r="2.236"/><circle class="o39" cx="190.08" cy="255.18" r="2.236"/><circle class="o39" cx="126.60" cy="260.80" r="2.236"/><circle class="o40" cx="240.46" cy="256.77" r="2.236"/><circle class="o41" cx="230.91" cy="186.12" r="2.236"/><circle class="o41" cx="247.94" cy="208.23" r="2.236"/><circle class="o41" cx="269.42" cy="251.68" r="2.236"/><circle class="o42" cx="251.96" cy="190.40" r="2.236"/><circle class="o42" cx="136.73" cy="226.91" r="2.236"/><circle class="o42" cx="252.93" cy="224.73" r="2.236"/><circle class="o42" cx="194.58" cy="261.05" r="2.236"/><circle class="o42" cx="248.33" cy="239.57" r="2.236"/><circle class="o42" cx="139.57" cy="241.04" r="2.236"/><circle class="o42" cx="253.76" cy="259.71" r="2.236"/><circle class="o43" cx="168.10" cy="208.74" r="2.236"/><circle class="o44" cx="246.46" cy="251.72" r="2.236"/><circle class="o46" cx="176.11" cy="234.84" r="2.236"/><circle class="o47" cx="269.05" cy="249.45" r="2.236"/><circle class="o47" cx="190.06" cy="258.38" r="2.236"/><circle class="o47" cx="158.51" cy="257.74" r="2.236"/><circle class="o48" cx="209.10" cy="267.89" r="2.236"/><circle class="o48" cx="121.20" cy="217.32" r="2.236"/><circle class="o48" cx="253.48" cy="266.38" r="2.236"/><circle class="o48" cx="222.77" cy="269.69" r="2.236"/><circle class="o48" cx="231.58" cy="228.79" r="2.236"/><circle class="o48" cx="277.42" cy="269.41" r="2.236"/><circle class="o48" cx="253.89" cy="287.13" r="2.236"/><circle class="o49" cx="170.39" cy="236.75" r="2.236"/><circle class="o49" cx="161.14" cy="261.91" r="2.236"/><circle class="o49" cx="178.82" cy="227.39" r="2.236"/><circle class="o49" cx="249.49" cy="187.59" r="2.236"/><circle class="o49" cx="248.03" cy="224.18" r="2.236"/><circle class="o49" cx="187.54" cy="220.70" r="2.236"/><circle class="o50" cx="176.51" cy="242.66" r="2.236"/><circle class="o50" cx="137.65" cy="224.49" r="2.236"/><circle class="o50" cx="214.12" cy="227.66" r="2.236"/><circle class="o50" cx="170.33" cy="225.24" r="2.236"/><circle class="o50" cx="120.63" cy="209.02" r="2.236"/><circle class="o51" cx="173.24" cy="287.43" r="2.236"/><circle class="o51" cx="159.07" cy="202.76" r="2.236"/><circle class="o51" cx="173.52" cy="260.68" r="2.236"/><circle class="o51" cx="279.05" cy="256.75" r="2.236"/><circle class="o52" cx="284.47" cy="271.04" r="2.236"/><circle class="o52" cx="159.11" cy="291.79" r="2.236"/><circle class="o52" cx="196.05" cy="253.55" r="2.236"/><circle class="o53" cx="164.38" cy="226.78" r="2.236"/><circle class="o53" cx="200.96" cy="280.08" r="2.236"/><circle class="o53" cx="255.59" cy="254.80" r="2.236"/><circle class="o53" cx="124.19" cy="226.08" r="2.236"/><circle class="o54" cx="178.46" cy="285.44" r="2.236"/><circle class="o54" cx="250.20" cy="249.80" r="2.236"/><circle class="o54" cx="184.62" cy="213.78" r="2.236"/><circle class="o54" cx="149.74" cy="284.05" r="2.236"/><circle class="o54" cx="134.74" cy="290.67" r="2.236"/><circle class="o54" cx="152.87" cy="286.23" r="2.236"/><circle class="o54" cx="130.08" cy="201.07" r="2.236"/><circle class="o55" cx="234.45" cy="198.67" r="2.236"/><circle class="o55" cx="170.06" cy="288.49" r="2.236"/><circle class="o55" cx="261.83" cy="247.42" r="2.236"/><circle class="o55" cx="276.40" cy="287.67" r="2.236"/><circle class="o55" cx="195.42" cy="248.31" r="2.236"/><circle class="o55" cx="230.02" cy="253.51" r="2.236"/><circle class="o55" cx="258.66" cy="192.98" r="2.236"/><circle class="o56" cx="162.57" cy="215.73" r="2.236"/><circle class="o56" cx="272.85" cy="256.99" r="2.236"/><circle class="o56" cx="168.51" cy="223.58" r="2.236"/><circle class="o56" cx="156.90" cy="218.69" r="2.236"/><circle class="o57" cx="122.60" cy="285.79" r="2.236"/><circle class="o57" cx="150.09" cy="235.78" r="2.236"/><circle class="o58" cx="264.62" cy="258.82" r="2.236"/><circle class="o58" cx="188.80" cy="254.93" r="2.236"/><circle class="o58" cx="273.56" cy="222.91" r="2.236"/><circle class="o58" cx="233.75" cy="233.54" r="2.236"/><circle class="o58" cx="187.64" cy="223.18" r="2.236"/><circle class="o59" cx="177.81" cy="232.93" r="2.236"/><circle class="o59" cx="157.99" cy="292.16" r="2.236"/><circle class="o59" cx="220.92" cy="286.32" r="2.236"/><circle class="o59" cx="132.07" cy="279.04" r="2.236"/><circle class="o60" cx="157.73" cy="190.39" r="2.236"/><circle class="o60" cx="258.80" cy="245.40" r="2.236"/><circle class="o60" cx="148.25" cy="265.06" r="2.236"/><circle class="o60" cx="154.98" cy="265.30" r="2.236"/><circle class="o61" cx="196.69" cy="262.10" r="2.236"/><circle class="o61" cx="286.96" cy="239.85" r="2.236"/><circle class="o62" cx="156.90" cy="256.61" r="2.236"/><circle class="o62" cx="219.98" cy="205.16" r="2.236"/><circle class="o62" cx="195.92" cy="222.46" r="2.236"/><circle class="o62" cx="194.82" cy="253.62" r="2.236"/><circle class="o62" cx="188.20" cy="228.82" r="2.236"/><circle class="o63" cx="129.15" cy="229.34" r="2.236"/><circle class="o63" cx="141.31" cy="294.44" r="2.236"/><circle class="o63" cx="235.01" cy="297.72" r="2.236"/><circle class="o64" cx="254.50" cy="207.35" r="2.236"/><circle class="o64" cx="162.29" cy="243.73" r="2.236"/><circle class="o65" cx="253.27" cy="190.01" r="2.236"/><circle class="o65" cx="186.52" cy="186.49" r="2.236"/><circle class="o66" cx="190.11" cy="202.99" r="2.236"/><circle class="o66" cx="263.80" cy="241.79" r="2.236"/><circle class="o66" cx="211.46" cy="248.25" r="2.236"/><circle class="o66" cx="167.85" cy="236.61" r="2.236"/><circle class="o66" cx="201.65" cy="231.90" r="2.236"/><circle class="o67" cx="179.65" cy="277.44" r="2.236"/><circle class="o67" cx="194.54" cy="278.68" r="2.236"/><circle class="o67" cx="278.90" cy="267.01" r="2.236"/><circle class="o67" cx="252.34" cy="221.61" r="2.236"/><circle class="o67" cx="208.85" cy="201.82" r="2.236"/><circle class="o68" cx="257.74" cy="289.12" r="2.236"/><circle class="o68" cx="126.79" cy="256.43" r="2.236"/><circle class="o68" cx="265.90" cy="274.11" r="2.236"/><circle class="o68" cx="150.67" cy="279.80" r="2.236"/><circle class="o69" cx="151.07" cy="277.47" r="2.236"/><circle class="o69" cx="193.55" cy="274.47" r="2.236"/><circle class="o69" cx="170.37" cy="193.38" r="2.236"/><circle class="o69" cx="230.78" cy="267.20" r="2.236"/><circle class="o69" cx="120.16" cy="217.41" r="2.236"/><circle class="o69" cx="143.92" cy="256.36" r="2.236"/><circle class="o70" cx="198.60" cy="206.30" r="2.236"/><circle class="o71" cx="199.89" cy="281.90" r="2.236"/><circle class="o71" cx="206.66" cy="230.70" r="2.236"/><circle class="o71" cx="206.75" cy="221.55" r="2.236"/><circle class="o72" cx="227.98" cy="244.60" r="2.236"/><circle class="o73" cx="151.17" cy="298.79" r="2.236"/><circle class="o73" cx="202.70" cy="202.75" r="2.236"/><circle class="o73" cx="234.64" cy="231.25" r="2.236"/><circle class="o74" cx="170.17" cy="257.46" r="2.236"/><circle class="o74" cx="244.46" cy="258.66" r="2.236"/><circle class="o74" cx="124.54" cy="219.89" r="2.236"/><circle class="o74" cx="272.74" cy="219.78" r="2.236"/><circle class="o74" cx="261.48" cy="235.78" r="2.236"/><circle class="o75" cx="192.44" cy="236.74" r="2.236"/><circle class="o76" cx="124.95" cy="218.25" r="2.236"/><circle class="o76" cx="254.67" cy="299.07" r="2.236"/><circle class="o76" cx="284.09" cy="220.97" r="2.236"/><circle class="o76" cx="205.86" cy="297.84" r="2.236"/><circle class="o76" cx="132.58" cy="218.80" r="2.236"/><circle class="o76" cx="260.32" cy="257.00" r="2.236"/><circle class="o77" cx="241.04" cy="261.02" r="2.236"/><circle class="o77" cx="200.29" cy="240.86" r="2.236"/><circle class="o77" cx="156.07" cy="257.34" r="2.236"/><circle class="o77" cx="258.70" cy="246.82" r="2.236"/><circle class="o77" cx="199.11" cy="227.13" r="2.236"/><circle class="o78" cx="226.82" cy="242.64" r="2.236"/><circle class="o78" cx="163.67" cy="274.54" r="2.236"/><circle class="o78" cx="133.70" cy="260.57" r="2.236"/><circle class="o78" cx="170.82" cy="235.48" r="2.236"/><circle class="o79" cx="153.73" cy="291.45" r="2.236"/><circle class="o80" cx="281.42" cy="255.88" r="2.236"/><circle class="o80" cx="152.11" cy="216.51" r="2.236"/><circle class="o81" cx="168.64" cy="221.82" r="2.236"/><circle class="o81" cx="165.76" cy="213.10" r="2.236"/><circle class="o82" cx="180.75" cy="246.75" r="2.236"/><circle class="o82" cx="164.90" cy="225.68" r="2.236"/><circle class="o83" cx="152.61" cy="263.20" r="2.236"/><circle class="o83" cx="237.30" cy="278.00" r="2.236"/><circle class="o84" cx="216.43" cy="291.78" r="2.236"/><circle class="o84" cx="236.40" cy="225.15" r="2.236"/><circle class="o85" cx="225.47" cy="279.23" r="2.236"/><circle class="o85" cx="211.90" cy="290.51" r="2.236"/><circle class="o85" cx="275.30" cy="225.39" r="2.236"/><circle class="o86" cx="128.12" cy="231.23" r="2.236"/><circle class="o86" cx="204.88" cy="285.08" r="2.236"/><circle class="o87" cx="226.51" cy="251.59" r="2.236"/><circle class="o88" cx="211.63" cy="241.48" r="2.236"/><circle class="o88" cx="219.64" cy="230.68" r="2.236"/><circle class="o89" cx="224.19" cy="243.58" r="2.236"/><circle class="o89" cx="168.35" cy="276.14" r="2.236"/><circle class="o90" cx="197.75" cy="264.96" r="2.236"/><circle class="o91" cx="138.73" cy="249.91" r="2.236"/><circle class="o98" cx="149.96" cy="253.39" r="2.236"/><circle class="o100" cx="153.33" cy="263.90" r="2.236"/></g><g fill="#e377c2" stroke="#e377c2"><circle class="o32" cx="245.63" cy="237.98" r="2.236"/><circle class="o32" cx="225.74" cy="224.63" r="2.236"/><circle class="o32" cx="226.82" cy="217.28" r="2.236"/><circle class="o33" cx="244.44" cy="218.86" r="2.236"/><circle class="o33" cx="227.47" cy="215.66" r="2.236"/><circle class="o34" cx="196.02" cy="227.85" r="2.236"/><circle class="o36" cx="251.49" cy="215.34" r="2.236"/><circle class="o37" cx="236.31" cy="230.57" r="2.236"/><circle class="o38" cx="231.09" cy="236.56" r="2.236"/><circle class="o38" cx="225.69" cy="200.24" r="2.236"/><circle class="o39" cx="171.28" cy="212.60" r="2.236"/><circle class="o39" cx="262.61" cy="262.05" r="2.236"/><circle class="o41" cx="182.44" cy="198.21" r="2.236"/><circle class="o41" cx="207.04" cy="221.35" r="2.236"/><circle class="o41" cx="145.31" cy="266.09" r="2.236"/><circle class="o42" cx="251.93" cy="190.63" r="2.236"/><circle class="o42" cx="165.37" cy="265.18" r="2.236"/><circle class="o42" cx="173.00" cy="238.56" r="2.236"/><circle class="o42" cx="207.87" cy="244.31" r="2.236"/><circle class="o42" cx="132.75" cy="239.28" r="2.236"/><circle class="o43" cx="142.73" cy="264.91" r="2.236"/><circle class="o44" cx="177.79" cy="212.18" r="2.236"/><circle class="o45" cx="207.90" cy="211.64" r="2.236"/><circle class="o45" cx="255.19" cy="186.68" r="2.236"/><circle class="o46" cx="169.60" cy="204.33" r="2.236"/><circle class="o46" cx="217.84" cy="267.74" r="2.236"/><circle class="o46" cx="190.28" cy="249.30" r="2.236"/><circle class="o47" cx="203.10" cy="256.14" r="2.236"/><circle class="o47" cx="127.01" cy="217.96" r="2.236"/><circle class="o48" cx="173.39" cy="270.19" r="2.236"/><circle class="o48" cx="178.33" cy="277.58" r="2.236"/><circle class="o48" cx="166.68" cy="273.20" r="2.236"/><circle class="o49" cx="154.07" cy="274.10" r="2.236"/><circle class="o49" cx="152.65" cy="193.42" r="2.236"/><circle class="o49" cx="129.79" cy="284.30" r="2.236"/><circle class="o49" cx="157.27" cy="238.12" r="2.236"/><circle class="o49" cx="209.97" cy="239.48" r="2.236"/><circle class="o49" cx="165.03" cy="242.88" r="2.236"/><circle class="o50" cx="168.27" cy="202.07" r="2.236"/><circle class="o50" cx="223.34" cy="265.51" r="2.236"/><circle class="o50" cx="150.98" cy="269.41" r="2.236"/><circle class="o50" cx="144.00" cy="241.85" r="2.236"/><circle class="o50" cx="179.90" cy="261.74" r="2.236"/><circle class="o51" cx="179.83" cy="226.56" r="2.236"/><circle class="o51" cx="130.69" cy="213.75" r="2.236"/><circle class="o51" cx="209.32" cy="231.98" r="2.236"/><circle class="o52" cx="230.25" cy="212.55" r="2.236"/><circle class="o52" cx="224.61" cy="257.31" r="2.236"/><circle class="o52" cx="249.61" cy="239.63" r="2.236"/><circle class="o54" cx="133.62" cy="260.11" r="2.236"/><circle class="o54" cx="171.64" cy="215.40" r="2.236"/><circle class="o54" cx="173.24" cy="271.70" r="2.236"/><circle class="o55" cx="226.42" cy="195.15" r="2.236"/><circle class="o55" cx="183.48" cy="242.64" r="2.236"/><circle class="o55" cx="237.67" cy="226.39" r="2.236"/><circle class="o56" cx="167.31" cy="278.02" r="2.236"/><circle class="o56" cx="234.69" cy="281.28" r="2.236"/><circle class="o57" cx="282.61" cy="273.07" r="2.236"/><circle class="o57" cx="208.38" cy="243.42" r="2.236"/><circle class="o57" cx="164.04" cy="207.51" r="2.236"/><circle class="o58" cx="240.72" cy="269.61" r="2.236"/><circle class="o58" cx="187.73" cy="201.30" r="2.236"/><circle class="o58" cx="146.43" cy="206.67" r="2.236"/><circle class="o58" cx="150.81" cy="204.79" r="2.236"/><circle class="o58" cx="257.42" cy="210.82" r="2.236"/><circle class="o58" cx="200.89" cy="268.66" r="2.236"/><circle class="o58" cx="203.17" cy="205.90" r="2.236"/><circle class="o58" cx="184.10" cy="270.04" r="2.236"/><circle class="o58" cx="165.06" cy="266.16" r="2.236"/><circle class="o59" cx="239.13" cy="245.65" r="2.236"/><circle class="o59" cx="139.24" cy="256.98" r="2.236"/><circle class="o59" cx="189.92" cy="239.28" r="2.236"/><circle class="o59" cx="164.55" cy="260.08" r="2.236"/><circle class="o59" cx="233.32" cy="258.56" r="2.236"/><circle class="o59" cx="134.56" cy="290.44" r="2.236"/><circle class="o59" cx="121.59" cy="262.68" r="2.236"/><circle class="o59" cx="200.69" cy="222.22" r="2.236"/><circle class="o60" cx="209.76" cy="291.72" r="2.236"/><circle class="o60" cx="276.66" cy="246.27" r="2.236"/><circle class="o60" cx="256.91" cy="246.97" r="2.236"/><circle class="o61" cx="223.28" cy="187.65" r="2.236"/><circle class="o62" cx="180.79" cy="191.06" r="2.236"/><circle class="o62" cx="164.57" cy="204.29" r="2.236"/><circle class="o62" cx="194.77" cy="275.73" r="2.236"/><circle class="o63" cx="181.08" cy="226.41" r="2.236"/><circle class="o63" cx="123.34" cy="244.27" r="2.236"/><circle class="o63" cx="157.35" cy="218.95" r="2.236"/><circle class="o63" cx="255.98" cy="234.42" r="2.236"/><circle class="o64" cx="131.98" cy="259.45" r="2.236"/><circle class="o64" cx="264.33" cy="247.43" r="2.236"/><circle class="o64" cx="230.56" cy="266.66" r="2.236"/><circle class="o66" cx="129.66" cy="186.63" r="2.236"/><circle class="o66" cx="122.79" cy="260.43" r="2.236"/><circle class="o67" cx="252.79" cy="198.26" r="2.236"/><circle class="o67" cx="183.20" cy="190.73" r="2.236"/><circle class="o68" cx="248.60" cy="264.63" r="2.236"/><circle class="o68" cx="166.60" cy="202.74" r="2.236"/><circle class="o68" cx="266.49" cy="211.93" r="2.236"/><circle class="o68" cx="200.91" cy="278.17" r="2.236"/><circle class="o68" cx="257.18" cy="288.98" r="2.236"/><circle class="o68" cx="147.30" cy="245.38" r="2.236"/><circle class="o68" cx="166.11" cy="260.75" r="2.236"/><circle class="o69" cx="168.61" cy="233.25" r="2.236"/><circle class="o69" cx="172.10" cy="269.61" r="2.236"/><circle class="o69" cx="276.04" cy="256.34" r="2.236"/><circle class="o70" cx="257.78" cy="258.71" r="2.236"/><circle class="o70" cx="149.38" cy="255.63" r="2.236"/><circle class="o70" cx="246.22" cy="237.27" r="2.236"/><circle class="o71" cx="164.08" cy="212.33" r="2.236"/><circle class="o72" cx="218.29" cy="206.55" r="2.236"/><circle class="o72" cx="201.85" cy="212.74" r="2.236"/><circle class="o72" cx="257.43" cy="211.27" r="2.236"/><circle class="o72" cx="145.68" cy="203.85" r="2.236"/><circle class="o73" cx="205.71" cy="257.08" r="2.236"/><circle class="o73" cx="139.55" cy="254.72" r="2.236"/><circle class="o73" cx="131.82" cy="293.50" r="2.236"/><circle class="o74" cx="189.00" cy="216.82" r="2.236"/><circle class="o74" cx="224.56" cy="285.76" r="2.236"/><circle class="o74" cx="216.79" cy="239.19" r="2.236"/><circle class="o75" cx="153.32" cy="238.24" r="2.236"/><circle class="o75" cx="141.15" cy="290.05" r="2.236"/><circle class="o75" cx="286.84" cy="248.92" r="2.236"/><circle class="o75" cx="169.66" cy="192.05" r="2.236"/><circle class="o76" cx="138.56" cy="201.90" r="2.236"/><circle class="o77" cx="226.94" cy="231.62" r="2.236"/><circle class="o77" cx="251.91" cy="242.47" r="2.236"/><circle class="o77" cx="233.62" cy="193.87" r="2.236"/><circle class="o77" cx="173.39" cy="213.77" r="2.236"/><circle class="o77" cx="162.11" cy="265.53" r="2.236"/><circle class="o78" cx="121.44" cy="223.80" r="2.236"/><circle class="o79" cx="268.58" cy="254.86" r="2.236"/><circle class="o79" cx="254.22" cy="259.31" r="2.236"/><circle class="o79" cx="151.54" cy="264.10" r="2.236"/><circle class="o80" cx="145.74" cy="237.97" r="2.236"/><circle class="o81" cx="205.42" cy="287.10" r="2.236"/><circle class="o81" cx="177.09" cy="221.33" r="2.236"/><circle class="o81" cx="198.25" cy="256.57" r="2.236"/><circle class="o82" cx="195.89" cy="245.89" r="2.236"/><circle class="o82" cx="235.50" cy="227.87" r="2.236"/><circle class="o83" cx="262.47" cy="232.99" r="2.236"/><circle class="o83" cx="142.22" cy="206.08" r="2.236"/><circle class="o84" cx="226.11" cy="208.64" r="2.236"/><circle class="o85" cx="151.22" cy="268.64" r="2.236"/><circle class="o86" cx="178.09" cy="242.27" r="2.236"/><circle class="o86" cx="275.40" cy="224.37" r="2.236"/><circle class="o87" cx="160.71" cy="262.69" r="2.236"/><circle class="o87" cx="265.29" cy="233.55" r="2.236"/><circle class="o87" cx="223.34" cy="221.25" r="2.236"/><circle class="o88" cx="186.81" cy="264.04" r="2.236"/><circle class="o89" cx="136.61" cy="230.92" r="2.236"/><circle class="o89" cx="180.27" cy="278.78" r="2.236"/><circle class="o95" cx="162.01" cy="263.44" r="2.236"/><circle class="o95" cx="196.28" cy="244.37" r="2.236"/><circle class="o95" cx="165.76" cy="285.00" r="2.236"/><circle class="o100" cx="156.19" cy="249.32" r="2.236"/></g><g fill="#17becf" stroke="#17becf"><circle class="o31" cx="247.01" cy="222.76" r="2.236"/><circle class="o31" cx="216.58" cy="241.02" r="2.236"/><circle class="o36" cx="204.17" cy="208.27" r="2.236"/><circle class="o38" cx="240.33" cy="187.82" r="2.236"/><circle class="o38" cx="208.24" cy="199.70" r="2.236"/><circle class="o38" cx="146.92" cy="231.90" r="2.236"/><circle class="o39" cx="128.85" cy="255.52" r="2.236"/><circle class="o39" cx="247.00" cy="207.82" r="2.236"/><circle class="o40" cx="208.34" cy="216.28" r="2.236"/><circle class="o41" cx="200.20" cy="204.04" r="2.236"/><circle class="o41" cx="170.08" cy="269.09" r="2.236"/><circle class="o42" cx="254.78" cy="235.25" r="2.236"/><circle class="o42" cx="191.23" cy="229.40" r="2.236"/><circle class="o42" cx="161.53" cy="255.07" r="2.236"/><circle class="o43" cx="254.94" cy="190.28" r="2.236"/><circle class="o44" cx="188.38" cy="248.43" r="2.236"/><circle class="o44" cx="231.72" cy="203.73" r="2.236"/><circle class="o44" cx="182.34" cy="269.17" r="2.236"/><circle class="o44" cx="213.44" cy="275.50" r="2.236"/><circle class="o44" cx="176.64" cy="279.71" r="2.236"/><circle class="o45" cx="192.39" cy="276.04" r="2.236"/><circle class="o45" cx="189.33" cy="278.45" r="2.236"/><circle class="o45" cx="126.36" cy="247.57" r="2.236"/><circle class="o46" cx="188.38" cy="206.42" r="2.236"/><circle class="o47" cx="186.04" cy="257.76" r="2.236"/><circle class="o47" cx="229.60" cy="264.40" r="2.236"/><circle class="o47" cx="233.20" cy="199.28" r="2.236"/><circle class="o48" cx="283.68" cy="260.53" r="2.236"/><circle class="o48" cx="218.01" cy="282.44" r="2.236"/><circle class="o49" cx="238.35" cy="276.89" r="2.236"/><circle class="o50" cx="143.71" cy="280.03" r="2.236"/><circle class="o50" cx="142.45" cy="217.38" r="2.236"/><circle class="o50" cx="222.66" cy="217.42" r="2.236"/><circle class="o51" cx="182.49" cy="222.45" r="2.236"/><circle class="o51" cx="213.16" cy="291.64" r="2.236"/><circle class="o51" cx="225.49" cy="270.24" r="2.236"/><circle class="o51" cx="159.51" cy="198.70" r="2.236"/><circle class="o52" cx="165.48" cy="267.77" r="2.236"/><circle class="o52" cx="133.15" cy="258.45" r="2.236"/><circle class="o54" cx="189.15" cy="191.39" r="2.236"/><circle class="o54" cx="128.10" cy="266.76" r="2.236"/><circle class="o54" cx="214.68" cy="204.26" r="2.236"/><circle class="o55" cx="274.18" cy="230.63" r="2.236"/><circle class="o55" cx="162.42" cy="202.28" r="2.236"/><circle class="o56" cx="254.42" cy="221.03" r="2.236"/><circle class="o56" cx="252.65" cy="191.20" r="2.236"/><circle class="o56" cx="218.23" cy="294.47" r="2.236"/><circle class="o57" cx="271.93" cy="267.60" r="2.236"/><circle class="o57" cx="230.14" cy="283.59" r="2.236"/><circle class="o57" cx="190.90" cy="274.91" r="2.236"/><circle class="o57" cx="229.63" cy="189.34" r="2.236"/><circle class="o57" cx="187.75" cy="258.64" r="2.236"/><circle class="o58" cx="158.36" cy="233.38" r="2.236"/><circle class="o58" cx="228.65" cy="273.67" r="2.236"/><circle class="o59" cx="131.67" cy="256.02" r="2.236"/><circle class="o60" cx="191.15" cy="291.12" r="2.236"/><circle class="o60" cx="182.97" cy="297.11" r="2.236"/><circle class="o60" cx="217.58" cy="276.45" r="2.236"/><circle class="o60" cx="150.75" cy="256.84" r="2.236"/><circle class="o61" cx="193.52" cy="290.90" r="2.236"/><circle class="o61" cx="281.44" cy="250.18" r="2.236"/><circle class="o61" cx="225.38" cy="198.14" r="2.236"/><circle class="o61" cx="220.95" cy="260.41" r="2.236"/><circle class="o61" cx="232.30" cy="196.57" r="2.236"/><circle class="o62" cx="138.74" cy="192.71" r="2.236"/><circle class="o62" cx="205.00" cy="292.27" r="2.236"/><circle class="o62" cx="235.25" cy="231.21" r="2.236"/><circle class="o62" cx="276.46" cy="255.03" r="2.236"/><circle class="o63" cx="151.37" cy="202.24" r="2.236"/><circle class="o63" cx="147.24" cy="208.13" r="2.236"/><circle class="o63" cx="158.51" cy="222.03" r="2.236"/><circle class="o63" cx="231.03" cy="193.08" r="2.236"/><circle class="o63" cx="225.65" cy="254.72" r="2.236"/><circle class="o63" cx="221.27" cy="188.88" r="2.236"/><circle class="o63" cx="145.13" cy="261.65" r="2.236"/><circle class="o64" cx="257.58" cy="260.59" r="2.236"/><circle class="o64" cx="152.61" cy="253.62" r="2.236"/><circle class="o64" cx="125.01" cy="256.98" r="2.236"/><circle class="o64" cx="257.01" cy="196.65" r="2.236"/><circle class="o64" cx="132.63" cy="226.48" r="2.236"/><circle class="o65" cx="180.87" cy="280.31" r="2.236"/><circle class="o65" cx="168.92" cy="258.06" r="2.236"/><circle class="o65" cx="256.17" cy="211.57" r="2.236"/><circle class="o66" cx="206.45" cy="219.70" r="2.236"/><circle class="o66" cx="254.60" cy="282.21" r="2.236"/><circle class="o67" cx="191.56" cy="292.39" r="2.236"/><circle class="o67" cx="243.86" cy="265.81" r="2.236"/><circle class="o67" cx="196.57" cy="190.22" r="2.236"/><circle class="o67" cx="240.45" cy="253.09" r="2.236"/><circle class="o67" cx="247.62" cy="277.04" r="2.236"/><circle class="o67" cx="205.34" cy="299.07" r="2.236"/><circle class="o68" cx="252.94" cy="190.90" r="2.236"/><circle class="o68" cx="223.77" cy="250.60" r="2.236"/><circle class="o68" cx="224.48" cy="251.49" r="2.236"/><circle class="o69" cx="247.56" cy="233.57" r="2.236"/><circle class="o69" cx="282.93" cy="280.16" r="2.236"/><circle class="o69" cx="138.02" cy="271.81" r="2.236"/><circle class="o70" cx="264.53" cy="223.06" r="2.236"/><circle class="o70" cx="156.93" cy="246.61" r="2.236"/><circle class="o70" cx="263.81" cy="231.43" r="2.236"/><circle class="o70" cx="169.06" cy="222.69" r="2.236"/><circle class="o70" cx="128.12" cy="207.42" r="2.236"/><circle class="o71" cx="263.24" cy="231.64" r="2.236"/><circle class="o71" cx="203.72" cy="227.91" r="2.236"/><circle class="o71" cx="135.06" cy="292.52" r="2.236"/><circle class="o71" cx="148.60" cy="247.46" r="2.236"/><circle class="o71" cx="249.87" cy="266.32" r="2.236"/><circle class="o72" cx="155.68" cy="275.01" r="2.236"/><circle class="o72" cx="262.96" cy="257.12" r="2.236"/><circle class="o72" cx="283.01" cy="226.97" r="2.236"/><circle class="o72" cx="256.46" cy="204.10" r="2.236"/><circle class="o73" cx="211.24" cy="238.56" r="2.236"/><circle class="o73" cx="204.62" cy="276.65" r="2.236"/><circle class="o75" cx="226.92" cy="242.88" r="2.236"/><circle class="o75" cx="140.52" cy="189.08" r="2.236"/><circle class="o75" cx="232.35" cy="273.46" r="2.236"/><circle class="o75" cx="150.03" cy="201.76" r="2.236"/><circle class="o75" cx="219.59" cy="258.51" r="2.236"/><circle class="o76" cx="241.17" cy="247.05" r="2.236"/><circle class="o76" cx="210.76" cy="241.02" r="2.236"/><circle class="o76" cx="208.19" cy="276.13" r="2.236"/><circle class="o76" cx="177.12" cy="236.08" r="2.236"/><circle class="o77" cx="207.61" cy="218.86" r="2.236"/><circle class="o77" cx="154.85" cy="194.63" r="2.236"/><circle class="o78" cx="146.68" cy="243.57" r="2.236"/><circle class="o78" cx="174.87" cy="211.74" r="2.236"/><circle class="o79" cx="249.58" cy="230.71" r="2.236"/><circle class="o80" cx="206.44" cy="267.57" r="2.236"/><circle class="o80" cx="175.86" cy="260.05" r="2.236"/><circle class="o80" cx="162.46" cy="203.82" r="2.236"/><circle class="o81" cx="285.92" cy="214.73" r="2.236"/><circle class="o81" cx="142.16" cy="235.83" r="2.236"/><circle class="o82" cx="184.76" cy="283.19" r="2.236"/><circle class="o82" cx="166.23" cy="218.59" r="2.236"/><circle class="o82" cx="189.47" cy="239.03" r="2.236"/><circle class="o83" cx="177.81" cy="242.10" r="2.236"/><circle class="o84" cx="182.07" cy="287.03" r="2.236"/><circle class="o84" cx="220.05" cy="233.78" r="2.236"/><circle class="o84" cx="220.35" cy="258.59" r="2.236"/><circle class="o85" cx="147.75" cy="299.84" r="2.236"/><circle class="o85" cx="161.55" cy="258.06" r="2.236"/><circle class="o85" cx="171.67" cy="256.08" r="2.236"/><circle class="o85" cx="150.21" cy="282.43" r="2.236"/><circle class="o85" cx="142.36" cy="292.97" r="2.236"/><circle class="o86" cx="236.78" cy="229.34" r="2.236"/><circle class="o86" cx="220.00" cy="283.18" r="2.236"/><circle class="o86" cx="236.39" cy="221.97" r="2.236"/><circle class="o88" cx="192.28" cy="287.80" r="2.236"/><circle class="o89" cx="160.32" cy="229.46" r="2.236"/><circle class="o90" cx="157.72" cy="223.29" r="2.236"/><circle class="o93" cx="182.99" cy="282.09" r="2.236"/><circle class="o95" cx="203.56" cy="267.52" r="2.236"/></g><g fill="#d62728" stroke="#d62728"><circle class="o39" cx="229.60" cy="180.88" r="2.236"/><circle class="o39" cx="217.60" cy="177.68" r="2.236"/><circle class="o40" cx="211.68" cy="182.80" r="2.236"/><circle class="o41" cx="226.40" cy="189.50" r="2.236"/><circle class="o41" cx="243.21" cy="188.80" r="2.236"/><circle class="o42" cx="208.55" cy="188.45" r="2.236"/><circle class="o43" cx="204.35" cy="195.80" r="2.236"/><circle class="o43" cx="248.45" cy="188.10" r="2.236"/><circle class="o43" cx="201.91" cy="195.10" r="2.236"/><circle class="o43" cx="211.70" cy="203.15" r="2.236"/><circle class="o44" cx="198.41" cy="200.70" r="2.236"/><circle class="o44" cx="216.95" cy="200.00" r="2.236"/><circle class="o44" cx="193.51" cy="192.65" r="2.236"/><circle class="o45" cx="181.25" cy="190.55" r="2.236"/><circle class="o45" cx="196.31" cy="204.20" r="2.236"/><circle class="o45" cx="251.25" cy="198.95" r="2.236"/><circle class="o45" cx="183.35" cy="198.25" r="2.236"/><circle class="o45" cx="177.75" cy="196.50" r="2.236"/><circle class="o46" cx="232.70" cy="207.70" r="2.236"/><circle class="o46" cx="190.00" cy="203.15" r="2.236"/><circle class="o46" cx="161.31" cy="193.70" r="2.236"/><circle class="o46" cx="180.55" cy="201.05" r="2.236"/><circle class="o46" cx="175.30" cy="198.60" r="2.236"/><circle class="o48" cx="217.30" cy="210.85" r="2.236"/><circle class="o48" cx="156.41" cy="202.80" r="2.236"/><circle class="o48" cx="248.80" cy="210.85" r="2.236"/><circle class="o48" cx="152.91" cy="202.45" r="2.236"/><circle class="o48" cx="235.16" cy="214.00" r="2.236"/><circle class="o49" cx="251.25" cy="214.70" r="2.236"/><circle class="o49" cx="171.10" cy="214.70" r="2.236"/><circle class="o50" cx="143.80" cy="204.55" r="2.236"/><circle class="o50" cx="158.16" cy="212.25" r="2.236"/><circle class="o50" cx="140.30" cy="211.55" r="2.236"/><circle class="o50" cx="193.51" cy="218.10" r="2.236"/><circle class="o50" cx="136.80" cy="209.10" r="2.236"/><circle class="o50" cx="257.55" cy="216.35" r="2.236"/><circle class="o50" cx="149.40" cy="208.75" r="2.236"/><circle class="o51" cx="130.15" cy="212.60" r="2.236"/><circle class="o51" cx="178.80" cy="217.40" r="2.236"/><circle class="o52" cx="212.05" cy="218.80" r="2.236"/><circle class="o52" cx="216.25" cy="221.25" r="2.236"/><circle class="o52" cx="127.70" cy="211.20" r="2.236"/><circle class="o52" cx="124.20" cy="209.45" r="2.236"/><circle class="o53" cx="88.52" cy="227.91" r="2.236"/><circle class="o53" cx="121.40" cy="225.10" r="2.236"/><circle class="o53" cx="136.10" cy="218.80" r="2.236"/><circle class="o54" cx="182.30" cy="223.70" r="2.236"/><circle class="o54" cx="153.61" cy="221.60" r="2.236"/><circle class="o54" cx="105.06" cy="210.80" r="2.236"/><circle class="o54" cx="210.30" cy="227.20" r="2.236"/><circle class="o54" cx="111.90" cy="213.99" r="2.236"/><circle class="o54" cx="98.78" cy="214.22" r="2.236"/><circle class="o54" cx="91.37" cy="226.54" r="2.236"/><circle class="o55" cx="94.22" cy="236.46" r="2.236"/><circle class="o55" cx="265.60" cy="225.10" r="2.236"/><circle class="o55" cx="117.03" cy="223.35" r="2.236"/><circle class="o55" cx="236.56" cy="228.95" r="2.236"/><circle class="o55" cx="85.67" cy="215.13" r="2.236"/><circle class="o55" cx="193.16" cy="225.10" r="2.236"/><circle class="o55" cx="92.17" cy="214.22" r="2.236"/><circle class="o55" cx="106.77" cy="226.77" r="2.236"/><circle class="o55" cx="110.76" cy="220.49" r="2.236"/><circle class="o56" cx="110.76" cy="227.91" r="2.236"/><circle class="o56" cx="173.20" cy="231.75" r="2.236"/><circle class="o56" cx="178.80" cy="231.40" r="2.236"/><circle class="o56" cx="142.40" cy="227.55" r="2.236"/><circle class="o56" cx="261.05" cy="228.25" r="2.236"/><circle class="o57" cx="96.50" cy="234.75" r="2.236"/><circle class="o57" cx="227.45" cy="232.45" r="2.236"/><circle class="o57" cx="274.00" cy="225.10" r="2.236"/><circle class="o57" cx="168.65" cy="234.90" r="2.236"/><circle class="o57" cx="99.35" cy="236.81" r="2.236"/><circle class="o58" cx="110.19" cy="234.75" r="2.236"/><circle class="o58" cx="116.46" cy="231.33" r="2.236"/><circle class="o58" cx="274.70" cy="235.60" r="2.236"/><circle class="o60" cx="115.32" cy="238.17" r="2.236"/><circle class="o60" cx="282.76" cy="228.60" r="2.236"/><circle class="o60" cx="102.21" cy="245.02" r="2.236"/><circle class="o60" cx="108.82" cy="237.03" r="2.236"/><circle class="o60" cx="178.80" cy="237.00" r="2.236"/><circle class="o60" cx="121.05" cy="239.80" r="2.236"/><circle class="o61" cx="223.25" cy="241.55" r="2.236"/><circle class="o61" cx="171.10" cy="239.10" r="2.236"/><circle class="o62" cx="279.96" cy="243.65" r="2.236"/><circle class="o62" cx="274.70" cy="244.70" r="2.236"/><circle class="o62" cx="194.91" cy="244.70" r="2.236"/><circle class="o64" cx="194.21" cy="246.70" r="2.236"/><circle class="o64" cx="202.26" cy="248.10" r="2.236"/><circle class="o64" cx="188.95" cy="248.80" r="2.236"/><circle class="o64" cx="107.91" cy="256.33" r="2.236"/><circle class="o65" cx="274.70" cy="247.05" r="2.236"/><circle class="o65" cx="286.26" cy="248.80" r="2.236"/><circle class="o65" cx="210.65" cy="251.60" r="2.236"/><circle class="o65" cx="152.21" cy="249.15" r="2.236"/><circle class="o65" cx="288.71" cy="251.84" r="2.236"/><circle class="o65" cx="281.01" cy="249.15" r="2.236"/><circle class="o65" cx="223.25" cy="251.25" r="2.236"/><circle class="o65" cx="268.40" cy="252.65" r="2.236"/><circle class="o65" cx="159.21" cy="251.60" r="2.236"/><circle class="o66" cx="286.96" cy="252.30" r="2.236"/><circle class="o66" cx="293.70" cy="244.15" r="2.236"/><circle class="o66" cx="241.81" cy="256.50" r="2.236"/><circle class="o66" cx="197.36" cy="254.05" r="2.236"/><circle class="o67" cx="123.85" cy="254.40" r="2.236"/><circle class="o67" cx="116.46" cy="266.83" r="2.236"/><circle class="o68" cx="171.10" cy="257.20" r="2.236"/><circle class="o68" cx="130.50" cy="257.55" r="2.236"/><circle class="o68" cx="202.26" cy="260.35" r="2.236"/><circle class="o69" cx="296.55" cy="250.42" r="2.236"/><circle class="o69" cx="229.90" cy="260.00" r="2.236"/><circle class="o69" cx="205.75" cy="257.20" r="2.236"/><circle class="o69" cx="118.75" cy="262.84" r="2.236"/><circle class="o69" cx="275.05" cy="262.10" r="2.236"/><circle class="o69" cx="290.85" cy="261.53" r="2.236"/><circle class="o70" cx="300.83" cy="250.42" r="2.236"/><circle class="o70" cx="258.60" cy="260.70" r="2.236"/><circle class="o70" cx="250.20" cy="263.85" r="2.236"/><circle class="o70" cx="280.66" cy="263.15" r="2.236"/><circle class="o71" cx="192.81" cy="264.90" r="2.236"/><circle class="o71" cx="156.06" cy="264.90" r="2.236"/><circle class="o71" cx="304.10" cy="254.84" r="2.236"/><circle class="o72" cx="244.26" cy="267.35" r="2.236"/><circle class="o72" cx="126.30" cy="265.60" r="2.236"/><circle class="o73" cx="307.95" cy="273.65" r="2.236"/><circle class="o73" cx="265.95" cy="267.00" r="2.236"/><circle class="o73" cx="294.41" cy="267.95" r="2.236"/><circle class="o73" cx="301.10" cy="276.70" r="2.236"/><circle class="o73" cx="135.75" cy="268.40" r="2.236"/><circle class="o73" cx="202.61" cy="267.70" r="2.236"/><circle class="o74" cx="277.86" cy="270.15" r="2.236"/><circle class="o74" cx="205.05" cy="267.70" r="2.236"/><circle class="o74" cx="171.80" cy="270.85" r="2.236"/><circle class="o74" cx="307.24" cy="263.67" r="2.236"/><circle class="o74" cx="288.50" cy="276.42" r="2.236"/><circle class="o74" cx="162.70" cy="273.65" r="2.236"/><circle class="o75" cx="141.00" cy="274.70" r="2.236"/><circle class="o75" cx="211.70" cy="271.90" r="2.236"/><circle class="o75" cx="314.37" cy="269.09" r="2.236"/><circle class="o75" cx="142.40" cy="276.40" r="2.236"/><circle class="o75" cx="282.20" cy="278.80" r="2.236"/><circle class="o76" cx="275.20" cy="285.52" r="2.236"/><circle class="o76" cx="154.31" cy="274.00" r="2.236"/><circle class="o76" cx="193.60" cy="276.80" r="2.236"/><circle class="o77" cx="242.40" cy="279.20" r="2.236"/><circle class="o77" cx="130.40" cy="284.00" r="2.236"/><circle class="o77" cx="230.00" cy="276.80" r="2.236"/><circle class="o78" cx="190.00" cy="278.40" r="2.236"/><circle class="o78" cx="157.60" cy="277.60" r="2.236"/><circle class="o78" cx="176.80" cy="279.60" r="2.236"/><circle class="o78" cx="182.40" cy="284.00" r="2.236"/><circle class="o78" cx="249.20" cy="278.80" r="2.236"/><circle class="o79" cx="233.20" cy="282.40" r="2.236"/><circle class="o79" cx="136.40" cy="280.40" r="2.236"/><circle class="o80" cx="256.00" cy="289.20" r="2.236"/><circle class="o80" cx="136.00" cy="290.40" r="2.236"/><circle class="o81" cx="214.80" cy="284.40" r="2.236"/><circle class="o81" cx="222.00" cy="285.20" r="2.236"/><circle class="o81" cx="236.40" cy="290.80" r="2.236"/><circle class="o81" cx="150.40" cy="284.80" r="2.236"/><circle class="o81" cx="242.00" cy="293.20" r="2.236"/><circle class="o82" cx="162.00" cy="290.00" r="2.236"/><circle class="o82" cx="139.50" cy="300.42" r="2.236"/><circle class="o82" cx="185.20" cy="292.00" r="2.236"/><circle class="o82" cx="202.00" cy="293.20" r="2.236"/><circle class="o83" cx="212.00" cy="296.40" r="2.236"/><circle class="o83" cx="218.80" cy="296.00" r="2.236"/><circle class="o84" cx="170.40" cy="293.60" r="2.236"/><circle class="o84" cx="209.50" cy="301.68" r="2.236"/><circle class="o85" cx="192.40" cy="298.40" r="2.236"/><circle class="o85" cx="216.80" cy="298.80" r="2.236"/><circle class="o85" cx="206.00" cy="298.40" r="2.236"/><circle class="o86" cx="165.20" cy="298.80" r="2.236"/><circle class="o87" cx="188.91" cy="305.88" r="2.236"/><circle class="o88" cx="167.50" cy="302.10" r="2.236"/><circle class="o88" cx="175.90" cy="303.50" r="2.236"/><circle class="o88" cx="195.50" cy="305.32" r="2.236"/><circle class="o88" cx="181.50" cy="305.60" r="2.236"/><circle class="o89" cx="149.02" cy="314.70" r="2.236"/><circle class="o90" cx="161.90" cy="305.60" r="2.236"/><circle class="o90" cx="175.48" cy="314.28" r="2.236"/><circle class="o92" cx="152.10" cy="319.60" r="2.236"/><circle class="o92" cx="161.48" cy="315.12" r="2.236"/></g><g fill="#1f77b4" stroke="#1f77b4"><circle class="o50" cx="89.66" cy="246.50" r="2.236"/><circle class="o52" cx="102.78" cy="266.26" r="2.236"/><circle class="o53" cx="240.80" cy="162.80" r="2.236"/><circle class="o53" cx="237.60" cy="150.80" r="2.236"/><circle class="o53" cx="233.12" cy="164.08" r="2.236"/><circle class="o53" cx="89.09" cy="234.75" r="2.236"/><circle class="o53" cx="106.54" cy="265.92" r="2.236"/><circle class="o53" cx="240.00" cy="147.12" r="2.236"/><circle class="o54" cx="95.36" cy="230.19" r="2.236"/><circle class="o54" cx="225.60" cy="152.40" r="2.236"/><circle class="o55" cx="196.80" cy="142.00" r="2.236"/><circle class="o55" cx="210.72" cy="161.04" r="2.236"/><circle class="o55" cx="224.80" cy="146.80" r="2.236"/><circle class="o55" cx="200.00" cy="171.60" r="2.236"/><circle class="o55" cx="240.00" cy="155.92" r="2.236"/><circle class="o56" cx="234.40" cy="174.48" r="2.236"/><circle class="o56" cx="93.08" cy="228.48" r="2.236"/><circle class="o56" cx="239.20" cy="184.40" r="2.236"/><circle class="o56" cx="215.20" cy="167.60" r="2.236"/><circle class="o56" cx="222.88" cy="170.32" r="2.236"/><circle class="o57" cx="113.38" cy="287.70" r="2.236"/><circle class="o57" cx="216.16" cy="155.92" r="2.236"/><circle class="o57" cx="239.36" cy="193.70" r="2.236"/><circle class="o57" cx="221.28" cy="184.08" r="2.236"/><circle class="o57" cx="186.40" cy="176.40" r="2.236"/><circle class="o57" cx="107.91" cy="235.32" r="2.236"/><circle class="o57" cx="249.15" cy="240.15" r="2.236"/><circle class="o57" cx="236.80" cy="169.20" r="2.236"/><circle class="o57" cx="191.20" cy="161.68" r="2.236"/><circle class="o58" cx="115.89" cy="249.58" r="2.236"/><circle class="o58" cx="116.12" cy="281.09" r="2.236"/><circle class="o58" cx="240.76" cy="232.80" r="2.236"/><circle class="o58" cx="221.85" cy="217.40" r="2.236"/><circle class="o58" cx="229.20" cy="187.40" r="2.236"/><circle class="o58" cx="202.72" cy="172.72" r="2.236"/><circle class="o59" cx="206.10" cy="230.00" r="2.236"/><circle class="o59" cx="211.35" cy="189.50" r="2.236"/><circle class="o59" cx="242.40" cy="174.48" r="2.236"/><circle class="o59" cx="154.40" cy="171.12" r="2.236"/><circle class="o59" cx="244.26" cy="195.10" r="2.236"/><circle class="o59" cx="257.12" cy="168.40" r="2.236"/><circle class="o59" cx="189.60" cy="182.00" r="2.236"/><circle class="o59" cx="232.70" cy="198.25" r="2.236"/><circle class="o59" cx="223.25" cy="197.20" r="2.236"/><circle class="o59" cx="200.32" cy="175.60" r="2.236"/><circle class="o59" cx="111.33" cy="241.60" r="2.236"/><circle class="o60" cx="232.00" cy="212.60" r="2.236"/><circle class="o60" cx="197.71" cy="189.85" r="2.236"/><circle class="o60" cx="111.90" cy="247.30" r="2.236"/><circle class="o60" cx="195.68" cy="174.16" r="2.236"/><circle class="o60" cx="149.28" cy="152.56" r="2.236"/><circle class="o60" cx="247.05" cy="192.30" r="2.236"/><circle class="o60" cx="103.92" cy="235.89" r="2.236"/><circle class="o60" cx="230.60" cy="204.55" r="2.236"/><circle class="o60" cx="186.08" cy="165.20" r="2.236"/><circle class="o60" cx="164.80" cy="176.40" r="2.236"/><circle class="o60" cx="189.30" cy="190.20" r="2.236"/><circle class="o60" cx="185.60" cy="184.40" r="2.236"/><circle class="o61" cx="209.25" cy="206.65" r="2.236"/><circle class="o61" cx="105.63" cy="231.90" r="2.236"/><circle class="o61" cx="244.61" cy="223.70" r="2.236"/><circle class="o61" cx="255.20" cy="179.60" r="2.236"/><circle class="o61" cx="186.15" cy="199.65" r="2.236"/><circle class="o61" cx="208.90" cy="214.70" r="2.236"/><circle class="o61" cx="235.86" cy="204.90" r="2.236"/><circle class="o61" cx="208.20" cy="218.10" r="2.236"/><circle class="o61" cx="201.91" cy="208.40" r="2.236"/><circle class="o61" cx="281.22" cy="285.52" r="2.236"/><circle class="o61" cx="295.50" cy="293.50" r="2.236"/><circle class="o61" cx="219.40" cy="188.80" r="2.236"/><circle class="o61" cx="310.62" cy="314.50" r="2.236"/><circle class="o61" cx="128.00" cy="160.08" r="2.236"/><circle class="o61" cx="126.65" cy="256.85" r="2.236"/><circle class="o61" cx="110.76" cy="230.19" r="2.236"/><circle class="o61" cx="107.00" cy="232.47" r="2.236"/><circle class="o61" cx="194.40" cy="179.92" r="2.236"/><circle class="o61" cx="180.80" cy="174.80" r="2.236"/><circle class="o61" cx="121.75" cy="263.50" r="2.236"/><circle class="o61" cx="185.10" cy="186.70" r="2.236"/><circle class="o61" cx="213.10" cy="246.70" r="2.236"/><circle class="o62" cx="245.31" cy="212.60" r="2.236"/><circle class="o62" cx="132.60" cy="266.30" r="2.236"/><circle class="o62" cx="157.11" cy="187.05" r="2.236"/><circle class="o62" cx="260.00" cy="206.30" r="2.236"/><circle class="o62" cx="136.80" cy="210.85" r="2.236"/><circle class="o62" cx="301.80" cy="302.60" r="2.236"/><circle class="o62" cx="246.70" cy="214.00" r="2.236"/><circle class="o62" cx="98.56" cy="210.00" r="2.236"/><circle class="o62" cx="294.52" cy="316.18" r="2.236"/><circle class="o62" cx="249.50" cy="205.60" r="2.236"/><circle class="o62" cx="168.80" cy="185.20" r="2.236"/><circle class="o62" cx="213.10" cy="228.60" r="2.236"/><circle class="o62" cx="188.25" cy="208.40" r="2.236"/><circle class="o62" cx="168.65" cy="187.05" r="2.236"/><circle class="o62" cx="146.25" cy="208.05" r="2.236"/><circle class="o62" cx="107.34" cy="224.26" r="2.236"/><circle class="o63" cx="122.00" cy="286.00" r="2.236"/><circle class="o63" cx="122.10" cy="258.25" r="2.236"/><circle class="o63" cx="173.20" cy="188.45" r="2.236"/><circle class="o63" cx="254.05" cy="269.45" r="2.236"/><circle class="o63" cx="271.90" cy="257.55" r="2.236"/><circle class="o63" cx="206.45" cy="239.10" r="2.236"/><circle class="o63" cx="152.48" cy="171.12" r="2.236"/><circle class="o63" cx="126.88" cy="177.52" r="2.236"/><circle class="o63" cx="155.71" cy="196.50" r="2.236"/><circle class="o63" cx="143.20" cy="182.80" r="2.236"/><circle class="o63" cx="286.12" cy="310.30" r="2.236"/><circle class="o63" cx="293.12" cy="325.00" r="2.236"/><circle class="o63" cx="255.45" cy="242.95" r="2.236"/><circle class="o63" cx="196.66" cy="207.70" r="2.236"/><circle class="o63" cx="198.06" cy="212.25" r="2.236"/><circle class="o63" cx="310.62" cy="302.32" r="2.236"/><circle class="o63" cx="150.40" cy="181.20" r="2.236"/><circle class="o63" cx="219.75" cy="221.60" r="2.236"/><circle class="o63" cx="285.28" cy="284.68" r="2.236"/><circle class="o63" cx="201.21" cy="214.70" r="2.236"/><circle class="o63" cx="183.00" cy="210.85" r="2.236"/><circle class="o63" cx="198.06" cy="234.90" r="2.236"/><circle class="o63" cx="93.99" cy="191.98" r="2.236"/><circle class="o63" cx="220.80" cy="232.10" r="2.236"/><circle class="o63" cx="246.70" cy="223.00" r="2.236"/><circle class="o63" cx="140.65" cy="193.70" r="2.236"/><circle class="o64" cx="301.52" cy="293.08" r="2.236"/><circle class="o64" cx="90.40" cy="185.20" r="2.236"/><circle class="o64" cx="159.21" cy="218.10" r="2.236"/><circle class="o64" cx="286.68" cy="313.10" r="2.236"/><circle class="o64" cx="149.75" cy="203.50" r="2.236"/><circle class="o64" cx="166.55" cy="198.60" r="2.236"/><circle class="o64" cx="161.31" cy="197.20" r="2.236"/><circle class="o64" cx="120.32" cy="166.00" r="2.236"/><circle class="o64" cx="262.10" cy="257.20" r="2.236"/><circle class="o64" cx="304.60" cy="296.30" r="2.236"/><circle class="o64" cx="126.65" cy="196.85" r="2.236"/><circle class="o64" cx="186.15" cy="234.20" r="2.236"/><circle class="o64" cx="190.00" cy="227.20" r="2.236"/><circle class="o64" cx="275.48" cy="289.72" r="2.236"/><circle class="o65" cx="187.20" cy="217.05" r="2.236"/><circle class="o65" cx="140.65" cy="214.70" r="2.236"/><circle class="o65" cx="132.25" cy="219.50" r="2.236"/><circle class="o65" cx="101.60" cy="179.60" r="2.236"/><circle class="o65" cx="254.40" cy="286.40" r="2.236"/><circle class="o65" cx="113.61" cy="209.09" r="2.236"/><circle class="o65" cx="97.41" cy="188.21" r="2.236"/><circle class="o65" cx="275.62" cy="297.98" r="2.236"/><circle class="o65" cx="105.06" cy="200.53" r="2.236"/><circle class="o65" cx="212.40" cy="209.10" r="2.236"/><circle class="o65" cx="109.28" cy="191.98" r="2.236"/><circle class="o65" cx="163.05" cy="214.00" r="2.236"/><circle class="o65" cx="123.20" cy="182.48" r="2.236"/><circle class="o65" cx="281.36" cy="275.05" r="2.236"/><circle class="o65" cx="90.40" cy="169.52" r="2.236"/><circle class="o65" cx="130.50" cy="243.30" r="2.236"/><circle class="o65" cx="262.00" cy="322.40" r="2.236"/><circle class="o65" cx="227.80" cy="252.30" r="2.236"/><circle class="o65" cx="256.50" cy="262.80" r="2.236"/><circle class="o65" cx="266.80" cy="325.28" r="2.236"/><circle class="o65" cx="236.91" cy="274.35" r="2.236"/><circle class="o65" cx="103.92" cy="217.87" r="2.236"/><circle class="o65" cx="261.05" cy="210.15" r="2.236"/><circle class="o65" cx="280.66" cy="253.00" r="2.236"/><circle class="o65" cx="269.32" cy="327.80" r="2.236"/><circle class="o65" cx="257.60" cy="280.00" r="2.236"/><circle class="o66" cx="265.92" cy="182.80" r="2.236"/><circle class="o66" cx="251.25" cy="223.70" r="2.236"/><circle class="o66" cx="99.20" cy="179.28" r="2.236"/><circle class="o66" cx="216.95" cy="239.80" r="2.236"/><circle class="o66" cx="294.80" cy="283.28" r="2.236"/><circle class="o66" cx="126.65" cy="218.80" r="2.236"/><circle class="o66" cx="124.20" cy="233.50" r="2.236"/><circle class="o66" cx="134.70" cy="196.85" r="2.236"/><circle class="o66" cx="160.61" cy="213.65" r="2.236"/><circle class="o66" cx="232.80" cy="298.00" r="2.236"/><circle class="o66" cx="160.96" cy="241.20" r="2.236"/><circle class="o66" cx="262.70" cy="317.50" r="2.236"/><circle class="o66" cx="255.70" cy="314.00" r="2.236"/><circle class="o66" cx="136.10" cy="270.85" r="2.236"/><circle class="o66" cx="136.40" cy="285.60" r="2.236"/><circle class="o66" cx="128.05" cy="201.05" r="2.236"/><circle class="o66" cx="128.40" cy="206.30" r="2.236"/><circle class="o66" cx="133.65" cy="260.70" r="2.236"/><circle class="o66" cx="271.20" cy="197.55" r="2.236"/><circle class="o66" cx="141.00" cy="218.80" r="2.236"/><circle class="o66" cx="299.28" cy="279.50" r="2.236"/><circle class="o66" cx="150.11" cy="238.40" r="2.236"/><circle class="o66" cx="268.05" cy="192.30" r="2.236"/><circle class="o66" cx="274.70" cy="231.75" r="2.236"/><circle class="o66" cx="247.75" cy="251.95" r="2.236"/><circle class="o66" cx="163.05" cy="227.20" r="2.236"/><circle class="o67" cx="136.00" cy="316.10" r="2.236"/><circle class="o67" cx="251.25" cy="274.00" r="2.236"/><circle class="o67" cx="225.00" cy="256.50" r="2.236"/><circle class="o67" cx="192.11" cy="230.00" r="2.236"/><circle class="o67" cx="281.36" cy="258.25" r="2.236"/><circle class="o67" cx="190.35" cy="256.15" r="2.236"/><circle class="o67" cx="264.10" cy="302.10" r="2.236"/><circle class="o67" cx="251.60" cy="276.80" r="2.236"/><circle class="o67" cx="179.50" cy="244.00" r="2.236"/><circle class="o67" cx="178.80" cy="258.95" r="2.236"/><circle class="o68" cx="134.35" cy="226.85" r="2.236"/><circle class="o68" cx="265.60" cy="247.05" r="2.236"/><circle class="o68" cx="280.66" cy="213.65" r="2.236"/><circle class="o68" cx="261.05" cy="231.05" r="2.236"/><circle class="o68" cx="254.02" cy="319.88" r="2.236"/><circle class="o68" cx="219.05" cy="259.30" r="2.236"/><circle class="o68" cx="136.00" cy="297.20" r="2.236"/><circle class="o68" cx="154.31" cy="234.20" r="2.236"/><circle class="o68" cx="147.65" cy="219.50" r="2.236"/><circle class="o68" cx="254.40" cy="297.20" r="2.236"/><circle class="o68" cx="135.30" cy="337.10" r="2.236"/><circle class="o68" cx="247.40" cy="230.00" r="2.236"/><circle class="o68" cx="271.55" cy="211.55" r="2.236"/><circle class="o68" cx="231.90" cy="329.12" r="2.236"/><circle class="o68" cx="206.80" cy="251.25" r="2.236"/><circle class="o68" cx="264.90" cy="238.40" r="2.236"/><circle class="o68" cx="237.20" cy="276.80" r="2.236"/><circle class="o68" cx="199.11" cy="257.90" r="2.236"/><circle class="o68" cx="219.05" cy="264.90" r="2.236"/><circle class="o68" cx="230.60" cy="230.70" r="2.236"/><circle class="o68" cx="146.95" cy="249.15" r="2.236"/><circle class="o68" cx="183.00" cy="273.30" r="2.236"/><circle class="o69" cx="201.56" cy="272.25" r="2.236"/><circle class="o69" cx="223.92" cy="303.92" r="2.236"/><circle class="o69" cx="115.89" cy="194.26" r="2.236"/><circle class="o69" cx="219.20" cy="284.40" r="2.236"/><circle class="o69" cx="164.10" cy="242.60" r="2.236"/><circle class="o69" cx="224.80" cy="283.60" r="2.236"/><circle class="o69" cx="310.09" cy="268.38" r="2.236"/><circle class="o69" cx="155.71" cy="238.40" r="2.236"/><circle class="o69" cx="245.20" cy="294.40" r="2.236"/><circle class="o69" cx="224.00" cy="289.20" r="2.236"/><circle class="o69" cx="124.90" cy="225.80" r="2.236"/><circle class="o70" cx="130.50" cy="246.70" r="2.236"/><circle class="o70" cx="254.75" cy="247.05" r="2.236"/><circle class="o70" cx="170.40" cy="223.00" r="2.236"/><circle class="o70" cx="286.26" cy="239.10" r="2.236"/><circle class="o70" cx="213.10" cy="274.00" r="2.236"/><circle class="o70" cx="134.70" cy="231.05" r="2.236"/><circle class="o70" cx="218.00" cy="278.80" r="2.236"/><circle class="o70" cx="235.86" cy="244.00" r="2.236"/><circle class="o70" cx="232.60" cy="316.52" r="2.236"/><circle class="o70" cx="207.50" cy="261.05" r="2.236"/><circle class="o70" cx="115.67" cy="213.08" r="2.236"/><circle class="o70" cx="262.10" cy="224.75" r="2.236"/><circle class="o70" cx="274.00" cy="238.75" r="2.236"/><circle class="o70" cx="163.05" cy="256.50" r="2.236"/><circle class="o70" cx="198.30" cy="302.10" r="2.236"/><circle class="o70" cx="144.80" cy="280.80" r="2.236"/><circle class="o70" cx="227.00" cy="335.28" r="2.236"/><circle class="o71" cx="214.12" cy="331.08" r="2.236"/><circle class="o71" cx="158.40" cy="291.60" r="2.236"/><circle class="o71" cx="225.00" cy="269.10" r="2.236"/><circle class="o71" cx="271.90" cy="220.55" r="2.236"/><circle class="o71" cx="149.40" cy="259.65" r="2.236"/><circle class="o71" cx="317.22" cy="268.66" r="2.236"/><circle class="o71" cx="136.80" cy="244.70" r="2.236"/><circle class="o71" cx="236.52" cy="309.80" r="2.236"/><circle class="o71" cx="207.60" cy="285.20" r="2.236"/><circle class="o71" cx="293.70" cy="255.55" r="2.236"/><circle class="o71" cx="136.10" cy="262.45" r="2.236"/><circle class="o71" cx="180.20" cy="267.00" r="2.236"/><circle class="o71" cx="160.26" cy="256.50" r="2.236"/><circle class="o71" cx="157.81" cy="255.10" r="2.236"/><circle class="o71" cx="192.40" cy="288.40" r="2.236"/><circle class="o71" cx="144.40" cy="346.20" r="2.236"/><circle class="o72" cx="218.80" cy="290.40" r="2.236"/><circle class="o72" cx="188.07" cy="333.32" r="2.236"/><circle class="o72" cx="139.60" cy="294.80" r="2.236"/><circle class="o72" cx="211.00" cy="267.35" r="2.236"/><circle class="o72" cx="200.40" cy="310.92" r="2.236"/><circle class="o72" cx="292.28" cy="198.40" r="2.236"/><circle class="o72" cx="205.20" cy="293.20" r="2.236"/><circle class="o72" cx="217.62" cy="338.50" r="2.236"/><circle class="o72" cx="174.92" cy="317.92" r="2.236"/><circle class="o72" cx="212.30" cy="316.52" r="2.236"/><circle class="o72" cx="196.31" cy="256.50" r="2.236"/><circle class="o72" cx="283.46" cy="218.80" r="2.236"/><circle class="o72" cx="176.32" cy="336.40" r="2.236"/><circle class="o72" cx="222.00" cy="293.20" r="2.236"/><circle class="o73" cx="284.86" cy="221.95" r="2.236"/><circle class="o73" cx="198.00" cy="295.20" r="2.236"/><circle class="o73" cx="184.29" cy="324.92" r="2.236"/><circle class="o73" cx="151.60" cy="298.80" r="2.236"/><circle class="o73" cx="199.70" cy="349.70" r="2.236"/><circle class="o73" cx="140.40" cy="284.80" r="2.236"/><circle class="o73" cx="288.71" cy="242.29" r="2.236"/><circle class="o73" cx="151.16" cy="255.10" r="2.236"/><circle class="o73" cx="294.84" cy="227.05" r="2.236"/><circle class="o73" cx="182.20" cy="308.68" r="2.236"/><circle class="o73" cx="208.80" cy="278.40" r="2.236"/><circle class="o74" cx="312.23" cy="253.41" r="2.236"/><circle class="o74" cx="290.57" cy="208.80" r="2.236"/><circle class="o74" cx="179.68" cy="352.22" r="2.236"/><circle class="o74" cx="201.60" cy="282.00" r="2.236"/><circle class="o74" cx="167.50" cy="305.88" r="2.236"/><circle class="o74" cx="171.00" cy="322.40" r="2.236"/><circle class="o74" cx="192.70" cy="313.72" r="2.236"/><circle class="o74" cx="282.41" cy="211.55" r="2.236"/><circle class="o74" cx="204.40" cy="288.00" r="2.236"/><circle class="o74" cx="184.99" cy="330.80" r="2.236"/><circle class="o74" cx="166.20" cy="271.55" r="2.236"/><circle class="o74" cx="163.60" cy="286.40" r="2.236"/><circle class="o74" cx="183.59" cy="341.02" r="2.236"/><circle class="o74" cx="177.60" cy="284.40" r="2.236"/><circle class="o74" cx="305.81" cy="240.87" r="2.236"/><circle class="o75" cx="162.60" cy="301.40" r="2.236"/><circle class="o75" cx="155.60" cy="321.00" r="2.236"/><circle class="o75" cx="145.90" cy="268.40" r="2.236"/><circle class="o75" cx="303.68" cy="243.01" r="2.236"/><circle class="o75" cx="161.48" cy="344.10" r="2.236"/><circle class="o75" cx="178.70" cy="321.00" r="2.236"/><circle class="o75" cx="294.84" cy="211.65" r="2.236"/><circle class="o75" cx="153.60" cy="291.20" r="2.236"/><circle class="o75" cx="165.40" cy="317.08" r="2.236"/><circle class="o75" cx="298.69" cy="207.38" r="2.236"/><circle class="o75" cx="148.32" cy="332.20" r="2.236"/><circle class="o76" cx="163.30" cy="336.40" r="2.236"/><circle class="o76" cx="294.13" cy="219.21" r="2.236"/><circle class="o76" cx="157.00" cy="306.30" r="2.236"/><circle class="o76" cx="302.96" cy="209.94" r="2.236"/><circle class="o76" cx="157.00" cy="358.52" r="2.236"/><circle class="o76" cx="175.20" cy="324.50" r="2.236"/><circle class="o76" cx="153.92" cy="323.80" r="2.236"/><circle class="o77" cx="300.54" cy="218.07" r="2.236"/><circle class="o77" cx="158.16" cy="273.65" r="2.236"/><circle class="o77" cx="165.68" cy="354.32" r="2.236"/><circle class="o78" cx="152.91" cy="267.00" r="2.236"/><circle class="o78" cx="167.50" cy="343.40" r="2.236"/><circle class="o79" cx="172.80" cy="288.40" r="2.236"/></g><g fill="#e377c2" stroke="#e377c2"><circle class="o49" cx="97.64" cy="275.16" r="2.236"/><circle class="o51" cx="243.36" cy="132.08" r="2.236"/><circle class="o52" cx="229.60" cy="146.00" r="2.236"/><circle class="o52" cx="238.56" cy="143.12" r="2.236"/><circle class="o53" cx="201.12" cy="132.08" r="2.236"/><circle class="o53" cx="228.00" cy="145.52" r="2.236"/><circle class="o53" cx="214.56" cy="136.08" r="2.236"/><circle class="o54" cx="221.12" cy="150.80" r="2.236"/><circle class="o54" cx="109.28" cy="281.09" r="2.236"/><circle class="o54" cx="98.21" cy="244.45" r="2.236"/><circle class="o54" cx="106.20" cy="257.13" r="2.236"/><circle class="o54" cx="111.56" cy="261.13" r="2.236"/><circle class="o54" cx="241.60" cy="178.32" r="2.236"/><circle class="o54" cx="99.92" cy="245.02" r="2.236"/><circle class="o54" cx="237.28" cy="164.40" r="2.236"/><circle class="o55" cx="198.88" cy="152.08" r="2.236"/><circle class="o55" cx="225.76" cy="168.08" r="2.236"/><circle class="o56" cx="220.00" cy="174.00" r="2.236"/><circle class="o56" cx="222.40" cy="175.60" r="2.236"/><circle class="o56" cx="227.20" cy="174.32" r="2.236"/><circle class="o56" cx="230.88" cy="162.00" r="2.236"/><circle class="o56" cx="110.76" cy="275.38" r="2.236"/><circle class="o56" cx="83.95" cy="211.03" r="2.236"/><circle class="o56" cx="111.90" cy="255.42" r="2.236"/><circle class="o56" cx="211.04" cy="172.72" r="2.236"/><circle class="o56" cx="228.00" cy="160.40" r="2.236"/><circle class="o56" cx="109.28" cy="265.12" r="2.236"/><circle class="o56" cx="227.80" cy="214.00" r="2.236"/><circle class="o57" cx="235.52" cy="161.20" r="2.236"/><circle class="o57" cx="116.12" cy="294.21" r="2.236"/><circle class="o57" cx="248.80" cy="165.20" r="2.236"/><circle class="o57" cx="236.91" cy="196.50" r="2.236"/><circle class="o58" cx="188.00" cy="166.48" r="2.236"/><circle class="o58" cx="95.59" cy="215.36" r="2.236"/><circle class="o58" cx="233.05" cy="191.60" r="2.236"/><circle class="o58" cx="187.20" cy="213.30" r="2.236"/><circle class="o58" cx="114.75" cy="251.29" r="2.236"/><circle class="o58" cx="240.41" cy="197.90" r="2.236"/><circle class="o58" cx="247.40" cy="238.40" r="2.236"/><circle class="o58" cx="99.35" cy="231.90" r="2.236"/><circle class="o58" cx="236.56" cy="200.00" r="2.236"/><circle class="o58" cx="227.10" cy="219.15" r="2.236"/><circle class="o58" cx="192.11" cy="214.70" r="2.236"/><circle class="o59" cx="201.21" cy="231.40" r="2.236"/><circle class="o59" cx="181.60" cy="183.60" r="2.236"/><circle class="o59" cx="156.80" cy="174.00" r="2.236"/><circle class="o59" cx="228.50" cy="200.00" r="2.236"/><circle class="o59" cx="181.60" cy="170.32" r="2.236"/><circle class="o59" cx="206.40" cy="178.80" r="2.236"/><circle class="o59" cx="214.50" cy="186.70" r="2.236"/><circle class="o59" cx="244.61" cy="220.20" r="2.236"/><circle class="o59" cx="169.60" cy="163.60" r="2.236"/><circle class="o59" cx="99.35" cy="216.50" r="2.236"/><circle class="o59" cx="261.60" cy="161.68" r="2.236"/><circle class="o59" cx="227.80" cy="207.00" r="2.236"/><circle class="o59" cx="229.90" cy="228.60" r="2.236"/><circle class="o59" cx="202.40" cy="183.12" r="2.236"/><circle class="o60" cx="209.25" cy="196.50" r="2.236"/><circle class="o60" cx="184.00" cy="175.12" r="2.236"/><circle class="o60" cx="192.80" cy="184.40" r="2.236"/><circle class="o60" cx="201.12" cy="182.00" r="2.236"/><circle class="o60" cx="118.17" cy="277.67" r="2.236"/><circle class="o60" cx="220.80" cy="191.60" r="2.236"/><circle class="o60" cx="193.86" cy="188.80" r="2.236"/><circle class="o60" cx="218.70" cy="198.95" r="2.236"/><circle class="o60" cx="214.50" cy="204.90" r="2.236"/><circle class="o60" cx="186.85" cy="206.30" r="2.236"/><circle class="o60" cx="139.68" cy="179.60" r="2.236"/><circle class="o60" cx="178.45" cy="188.45" r="2.236"/><circle class="o60" cx="264.90" cy="253.70" r="2.236"/><circle class="o60" cx="150.72" cy="160.88" r="2.236"/><circle class="o61" cx="107.91" cy="219.92" r="2.236"/><circle class="o61" cx="309.22" cy="311.28" r="2.236"/><circle class="o61" cx="170.40" cy="165.52" r="2.236"/><circle class="o61" cx="135.20" cy="157.20" r="2.236"/><circle class="o61" cx="253.35" cy="187.75" r="2.236"/><circle class="o61" cx="151.16" cy="187.05" r="2.236"/><circle class="o61" cx="156.80" cy="182.80" r="2.236"/><circle class="o61" cx="180.20" cy="207.35" r="2.236"/><circle class="o61" cx="215.20" cy="184.40" r="2.236"/><circle class="o61" cx="113.61" cy="230.76" r="2.236"/><circle class="o61" cx="217.65" cy="208.40" r="2.236"/><circle class="o61" cx="126.30" cy="242.60" r="2.236"/><circle class="o61" cx="183.70" cy="201.75" r="2.236"/><circle class="o62" cx="190.70" cy="187.40" r="2.236"/><circle class="o62" cx="92.51" cy="203.38" r="2.236"/><circle class="o62" cx="257.20" cy="194.40" r="2.236"/><circle class="o62" cx="90.57" cy="196.54" r="2.236"/><circle class="o62" cx="228.85" cy="211.20" r="2.236"/><circle class="o62" cx="168.80" cy="174.80" r="2.236"/><circle class="o62" cx="190.08" cy="178.00" r="2.236"/><circle class="o62" cx="165.85" cy="191.60" r="2.236"/><circle class="o62" cx="122.10" cy="237.00" r="2.236"/><circle class="o62" cx="170.40" cy="199.30" r="2.236"/><circle class="o62" cx="169.70" cy="194.05" r="2.236"/><circle class="o62" cx="127.70" cy="250.20" r="2.236"/><circle class="o62" cx="209.60" cy="231.05" r="2.236"/><circle class="o62" cx="144.85" cy="195.10" r="2.236"/><circle class="o62" cx="249.15" cy="232.80" r="2.236"/><circle class="o62" cx="308.80" cy="297.00" r="2.236"/><circle class="o62" cx="250.90" cy="227.20" r="2.236"/><circle class="o62" cx="295.78" cy="305.40" r="2.236"/><circle class="o63" cx="273.65" cy="265.95" r="2.236"/><circle class="o63" cx="123.50" cy="272.95" r="2.236"/><circle class="o63" cx="263.68" cy="169.52" r="2.236"/><circle class="o63" cx="113.28" cy="169.68" r="2.236"/><circle class="o63" cx="262.08" cy="181.20" r="2.236"/><circle class="o63" cx="134.00" cy="199.30" r="2.236"/><circle class="o63" cx="183.70" cy="212.25" r="2.236"/><circle class="o63" cx="153.26" cy="230.00" r="2.236"/><circle class="o63" cx="118.17" cy="196.54" r="2.236"/><circle class="o63" cx="196.31" cy="233.50" r="2.236"/><circle class="o63" cx="142.40" cy="190.20" r="2.236"/><circle class="o64" cx="145.55" cy="186.35" r="2.236"/><circle class="o64" cx="257.60" cy="184.88" r="2.236"/><circle class="o64" cx="166.20" cy="230.00" r="2.236"/><circle class="o64" cx="160.61" cy="203.85" r="2.236"/><circle class="o64" cx="250.55" cy="218.80" r="2.236"/><circle class="o64" cx="258.95" cy="257.55" r="2.236"/><circle class="o64" cx="289.62" cy="307.50" r="2.236"/><circle class="o64" cx="267.50" cy="317.72" r="2.236"/><circle class="o64" cx="130.00" cy="276.80" r="2.236"/><circle class="o64" cx="119.52" cy="178.00" r="2.236"/><circle class="o64" cx="128.00" cy="292.80" r="2.236"/><circle class="o64" cx="125.25" cy="193.70" r="2.236"/><circle class="o64" cx="260.35" cy="246.70" r="2.236"/><circle class="o64" cx="277.51" cy="266.30" r="2.236"/><circle class="o64" cx="212.40" cy="237.70" r="2.236"/><circle class="o64" cx="204.70" cy="242.60" r="2.236"/><circle class="o64" cx="118.40" cy="167.92" r="2.236"/><circle class="o64" cx="158.16" cy="191.25" r="2.236"/><circle class="o64" cx="179.15" cy="211.90" r="2.236"/><circle class="o64" cx="175.30" cy="186.70" r="2.236"/><circle class="o64" cx="239.01" cy="265.25" r="2.236"/><circle class="o64" cx="260.70" cy="198.60" r="2.236"/><circle class="o64" cx="248.80" cy="208.40" r="2.236"/><circle class="o65" cx="278.70" cy="304.70" r="2.236"/><circle class="o65" cx="140.40" cy="289.20" r="2.236"/><circle class="o65" cx="124.20" cy="261.05" r="2.236"/><circle class="o65" cx="228.40" cy="297.60" r="2.236"/><circle class="o65" cx="97.64" cy="198.82" r="2.236"/><circle class="o65" cx="281.92" cy="304.70" r="2.236"/><circle class="o65" cx="292.00" cy="278.52" r="2.236"/><circle class="o65" cx="191.40" cy="217.40" r="2.236"/><circle class="o65" cx="143.45" cy="243.65" r="2.236"/><circle class="o65" cx="123.50" cy="198.95" r="2.236"/><circle class="o65" cx="266.10" cy="281.60" r="2.236"/><circle class="o65" cx="100.84" cy="207.15" r="2.236"/><circle class="o65" cx="136.45" cy="254.75" r="2.236"/><circle class="o65" cx="262.00" cy="278.80" r="2.236"/><circle class="o65" cx="134.35" cy="213.65" r="2.236"/><circle class="o65" cx="171.10" cy="217.05" r="2.236"/><circle class="o65" cx="128.40" cy="188.45" r="2.236"/><circle class="o65" cx="183.00" cy="244.00" r="2.236"/><circle class="o65" cx="99.92" cy="202.24" r="2.236"/><circle class="o65" cx="188.60" cy="230.70" r="2.236"/><circle class="o66" cx="243.91" cy="241.20" r="2.236"/><circle class="o66" cx="258.95" cy="199.65" r="2.236"/><circle class="o66" cx="101.28" cy="184.40" r="2.236"/><circle class="o66" cx="197.01" cy="227.20" r="2.236"/><circle class="o66" cx="255.80" cy="256.85" r="2.236"/><circle class="o66" cx="288.71" cy="263.67" r="2.236"/><circle class="o66" cx="286.26" cy="272.25" r="2.236"/><circle class="o66" cx="241.81" cy="260.00" r="2.236"/><circle class="o66" cx="246.32" cy="307.28" r="2.236"/><circle class="o66" cx="240.41" cy="269.80" r="2.236"/><circle class="o66" cx="111.33" cy="212.17" r="2.236"/><circle class="o66" cx="122.45" cy="188.10" r="2.236"/><circle class="o66" cx="135.75" cy="248.45" r="2.236"/><circle class="o66" cx="264.90" cy="232.10" r="2.236"/><circle class="o66" cx="286.61" cy="263.50" r="2.236"/><circle class="o66" cx="121.40" cy="216.70" r="2.236"/><circle class="o66" cx="134.60" cy="328.00" r="2.236"/><circle class="o66" cx="165.50" cy="255.45" r="2.236"/><circle class="o66" cx="155.36" cy="252.30" r="2.236"/><circle class="o66" cx="169.00" cy="243.30" r="2.236"/><circle class="o67" cx="253.00" cy="206.30" r="2.236"/><circle class="o67" cx="227.10" cy="243.65" r="2.236"/><circle class="o67" cx="250.20" cy="248.80" r="2.236"/><circle class="o67" cx="246.00" cy="290.40" r="2.236"/><circle class="o67" cx="265.25" cy="194.40" r="2.236"/><circle class="o67" cx="269.80" cy="215.05" r="2.236"/><circle class="o67" cx="219.40" cy="273.30" r="2.236"/><circle class="o67" cx="289.43" cy="272.94" r="2.236"/><circle class="o67" cx="115.32" cy="218.78" r="2.236"/><circle class="o67" cx="245.20" cy="280.80" r="2.236"/><circle class="o67" cx="160.61" cy="237.70" r="2.236"/><circle class="o67" cx="272.80" cy="185.68" r="2.236"/><circle class="o67" cx="173.90" cy="249.15" r="2.236"/><circle class="o67" cx="126.65" cy="232.10" r="2.236"/><circle class="o67" cx="244.50" cy="337.52" r="2.236"/><circle class="o67" cx="131.20" cy="232.10" r="2.236"/><circle class="o67" cx="245.60" cy="276.80" r="2.236"/><circle class="o67" cx="246.70" cy="274.70" r="2.236"/><circle class="o67" cx="213.10" cy="242.60" r="2.236"/><circle class="o67" cx="133.90" cy="301.12" r="2.236"/><circle class="o68" cx="262.00" cy="290.00" r="2.236"/><circle class="o68" cx="152.21" cy="215.05" r="2.236"/><circle class="o68" cx="146.60" cy="239.10" r="2.236"/><circle class="o68" cx="310.09" cy="271.51" r="2.236"/><circle class="o68" cx="244.61" cy="274.00" r="2.236"/><circle class="o68" cx="296.55" cy="256.26" r="2.236"/><circle class="o68" cx="210.40" cy="282.40" r="2.236"/><circle class="o68" cx="157.11" cy="225.10" r="2.236"/><circle class="o68" cx="269.32" cy="293.08" r="2.236"/><circle class="o68" cx="262.10" cy="242.60" r="2.236"/><circle class="o68" cx="151.51" cy="257.90" r="2.236"/><circle class="o68" cx="235.20" cy="286.40" r="2.236"/><circle class="o68" cx="162.70" cy="238.40" r="2.236"/><circle class="o68" cx="152.21" cy="217.40" r="2.236"/><circle class="o68" cx="254.40" cy="282.00" r="2.236"/><circle class="o68" cx="271.20" cy="218.45" r="2.236"/><circle class="o68" cx="138.55" cy="223.35" r="2.236"/><circle class="o68" cx="235.68" cy="319.32" r="2.236"/><circle class="o68" cx="232.32" cy="304.20" r="2.236"/><circle class="o68" cx="186.15" cy="274.70" r="2.236"/><circle class="o68" cx="148.70" cy="234.90" r="2.236"/><circle class="o68" cx="184.40" cy="227.20" r="2.236"/><circle class="o68" cx="222.90" cy="246.70" r="2.236"/><circle class="o68" cx="143.00" cy="308.68" r="2.236"/><circle class="o68" cx="132.25" cy="226.50" r="2.236"/><circle class="o68" cx="115.89" cy="207.38" r="2.236"/><circle class="o68" cx="286.96" cy="267.70" r="2.236"/><circle class="o69" cx="192.81" cy="252.65" r="2.236"/><circle class="o69" cx="233.30" cy="306.30" r="2.236"/><circle class="o69" cx="209.50" cy="307.70" r="2.236"/><circle class="o69" cx="145.90" cy="244.70" r="2.236"/><circle class="o69" cx="183.35" cy="267.35" r="2.236"/><circle class="o69" cx="231.30" cy="265.60" r="2.236"/><circle class="o69" cx="121.40" cy="214.00" r="2.236"/><circle class="o69" cx="244.92" cy="318.20" r="2.236"/><circle class="o69" cx="229.80" cy="310.50" r="2.236"/><circle class="o69" cx="184.40" cy="271.90" r="2.236"/><circle class="o69" cx="237.26" cy="262.80" r="2.236"/><circle class="o69" cx="242.80" cy="288.80" r="2.236"/><circle class="o69" cx="134.00" cy="239.80" r="2.236"/><circle class="o69" cx="136.80" cy="227.90" r="2.236"/><circle class="o69" cx="122.80" cy="220.20" r="2.236"/><circle class="o69" cx="200.40" cy="307.00" r="2.236"/><circle class="o69" cx="134.00" cy="299.20" r="2.236"/><circle class="o69" cx="279.61" cy="200.70" r="2.236"/><circle class="o69" cx="277.16" cy="197.90" r="2.236"/><circle class="o69" cx="284.86" cy="241.55" r="2.236"/><circle class="o69" cx="150.81" cy="237.00" r="2.236"/><circle class="o69" cx="192.00" cy="292.00" r="2.236"/><circle class="o70" cx="144.50" cy="258.95" r="2.236"/><circle class="o70" cx="212.40" cy="297.60" r="2.236"/><circle class="o70" cx="215.20" cy="257.20" r="2.236"/><circle class="o70" cx="148.70" cy="263.85" r="2.236"/><circle class="o70" cx="188.60" cy="239.80" r="2.236"/><circle class="o70" cx="215.20" cy="267.70" r="2.236"/><circle class="o70" cx="256.50" cy="233.50" r="2.236"/><circle class="o70" cx="128.40" cy="227.20" r="2.236"/><circle class="o70" cx="139.25" cy="270.50" r="2.236"/><circle class="o70" cx="265.25" cy="206.30" r="2.236"/><circle class="o70" cx="204.00" cy="283.60" r="2.236"/><circle class="o70" cx="207.68" cy="321.00" r="2.236"/><circle class="o70" cx="222.80" cy="332.20" r="2.236"/><circle class="o70" cx="112.24" cy="204.18" r="2.236"/><circle class="o70" cx="176.00" cy="235.25" r="2.236"/><circle class="o70" cx="204.80" cy="278.00" r="2.236"/><circle class="o70" cx="186.40" cy="293.20" r="2.236"/><circle class="o70" cx="269.10" cy="248.10" r="2.236"/><circle class="o70" cx="213.00" cy="305.88" r="2.236"/><circle class="o71" cx="310.09" cy="261.25" r="2.236"/><circle class="o71" cx="178.80" cy="277.60" r="2.236"/><circle class="o71" cx="136.00" cy="293.60" r="2.236"/><circle class="o71" cx="142.30" cy="306.30" r="2.236"/><circle class="o71" cx="269.10" cy="224.40" r="2.236"/><circle class="o71" cx="222.90" cy="274.00" r="2.236"/><circle class="o71" cx="147.60" cy="294.80" r="2.236"/><circle class="o71" cx="310.80" cy="265.81" r="2.236"/><circle class="o71" cx="178.80" cy="253.00" r="2.236"/><circle class="o71" cx="164.80" cy="248.10" r="2.236"/><circle class="o71" cx="280.31" cy="220.90" r="2.236"/><circle class="o71" cx="298.26" cy="250.13" r="2.236"/><circle class="o71" cx="187.79" cy="301.40" r="2.236"/><circle class="o71" cx="213.00" cy="311.90" r="2.236"/><circle class="o71" cx="189.65" cy="263.15" r="2.236"/><circle class="o71" cx="207.15" cy="271.55" r="2.236"/><circle class="o72" cx="173.52" cy="334.30" r="2.236"/><circle class="o72" cx="214.80" cy="290.40" r="2.236"/><circle class="o72" cx="145.60" cy="284.80" r="2.236"/><circle class="o72" cx="152.80" cy="287.20" r="2.236"/><circle class="o72" cx="185.10" cy="247.05" r="2.236"/><circle class="o72" cx="267.70" cy="234.20" r="2.236"/><circle class="o72" cx="194.52" cy="347.88" r="2.236"/><circle class="o72" cx="198.30" cy="351.10" r="2.236"/><circle class="o72" cx="169.60" cy="314.70" r="2.236"/><circle class="o72" cx="210.62" cy="322.40" r="2.236"/><circle class="o72" cx="209.50" cy="314.70" r="2.236"/><circle class="o72" cx="156.30" cy="303.92" r="2.236"/><circle class="o73" cx="312.94" cy="243.72" r="2.236"/><circle class="o73" cx="171.80" cy="263.50" r="2.236"/><circle class="o73" cx="173.10" cy="301.40" r="2.236"/><circle class="o73" cx="174.50" cy="328.00" r="2.236"/><circle class="o73" cx="162.70" cy="267.00" r="2.236"/><circle class="o73" cx="170.75" cy="252.30" r="2.236"/><circle class="o73" cx="190.87" cy="313.30" r="2.236"/><circle class="o73" cx="201.10" cy="319.60" r="2.236"/><circle class="o73" cx="203.48" cy="326.32" r="2.236"/><circle class="o73" cx="308.67" cy="256.12" r="2.236"/><circle class="o73" cx="199.60" cy="277.20" r="2.236"/><circle class="o73" cx="159.21" cy="262.45" r="2.236"/><circle class="o73" cx="166.80" cy="314.00" r="2.236"/><circle class="o73" cx="181.60" cy="261.75" r="2.236"/><circle class="o73" cx="297.69" cy="222.34" r="2.236"/><circle class="o73" cx="285.56" cy="209.10" r="2.236"/><circle class="o73" cx="169.60" cy="318.90" r="2.236"/><circle class="o73" cx="286.26" cy="227.20" r="2.236"/><circle class="o74" cx="199.60" cy="286.40" r="2.236"/><circle class="o74" cx="154.40" cy="279.20" r="2.236"/><circle class="o74" cx="149.60" cy="279.20" r="2.236"/><circle class="o74" cx="193.60" cy="283.20" r="2.236"/><circle class="o74" cx="285.21" cy="213.65" r="2.236"/><circle class="o74" cx="298.26" cy="196.69" r="2.236"/><circle class="o74" cx="150.70" cy="341.02" r="2.236"/><circle class="o74" cx="173.60" cy="298.80" r="2.236"/><circle class="o75" cx="191.05" cy="267.70" r="2.236"/><circle class="o75" cx="156.30" cy="329.12" r="2.236"/><circle class="o75" cx="156.41" cy="259.65" r="2.236"/><circle class="o75" cx="175.48" cy="329.40" r="2.236"/><circle class="o75" cx="284.16" cy="235.95" r="2.236"/><circle class="o75" cx="163.30" cy="333.60" r="2.236"/><circle class="o75" cx="170.00" cy="278.80" r="2.236"/><circle class="o75" cx="158.86" cy="269.10" r="2.236"/><circle class="o75" cx="153.20" cy="294.00" r="2.236"/><circle class="o76" cx="166.90" cy="274.35" r="2.236"/><circle class="o76" cx="166.20" cy="262.45" r="2.236"/><circle class="o76" cx="159.52" cy="319.60" r="2.236"/><circle class="o76" cx="169.20" cy="295.20" r="2.236"/><circle class="o76" cx="288.71" cy="227.33" r="2.236"/><circle class="o76" cx="299.12" cy="212.37" r="2.236"/><circle class="o76" cx="195.08" cy="317.92" r="2.236"/><circle class="o76" cx="302.54" cy="239.87" r="2.236"/><circle class="o77" cx="166.00" cy="276.80" r="2.236"/><circle class="o78" cx="311.94" cy="231.18" r="2.236"/><circle class="o79" cx="304.39" cy="215.50" r="2.236"/></g><g fill="#17becf" stroke="#17becf"><circle class="o47" cx="88.86" cy="257.13" r="2.236"/><circle class="o55" cx="221.92" cy="141.52" r="2.236"/><circle class="o55" cx="219.36" cy="143.76" r="2.236"/><circle class="o55" cx="243.68" cy="144.56" r="2.236"/><circle class="o56" cx="208.16" cy="151.12" r="2.236"/><circle class="o57" cx="205.60" cy="150.16" r="2.236"/><circle class="o57" cx="243.52" cy="149.52" r="2.236"/><circle class="o59" cx="253.92" cy="160.72" r="2.236"/><circle class="o59" cx="110.19" cy="267.97" r="2.236"/><circle class="o59" cx="228.32" cy="153.68" r="2.236"/><circle class="o59" cx="217.28" cy="158.80" r="2.236"/><circle class="o59" cx="114.75" cy="277.10" r="2.236"/><circle class="o60" cx="233.28" cy="156.40" r="2.236"/><circle class="o60" cx="103.57" cy="245.59" r="2.236"/><circle class="o60" cx="240.80" cy="173.20" r="2.236"/><circle class="o60" cx="116.81" cy="297.40" r="2.236"/><circle class="o61" cx="219.20" cy="166.80" r="2.236"/><circle class="o61" cx="110.19" cy="250.15" r="2.236"/><circle class="o61" cx="235.20" cy="170.00" r="2.236"/><circle class="o61" cx="240.00" cy="175.60" r="2.236"/><circle class="o61" cx="231.20" cy="182.80" r="2.236"/><circle class="o62" cx="252.80" cy="164.88" r="2.236"/><circle class="o62" cx="201.44" cy="167.92" r="2.236"/><circle class="o63" cx="235.20" cy="179.60" r="2.236"/><circle class="o63" cx="206.88" cy="184.40" r="2.236"/><circle class="o63" cx="158.40" cy="161.52" r="2.236"/><circle class="o63" cx="147.20" cy="170.00" r="2.236"/><circle class="o64" cx="207.68" cy="174.32" r="2.236"/><circle class="o64" cx="132.80" cy="166.16" r="2.236"/><circle class="o64" cx="236.00" cy="182.00" r="2.236"/><circle class="o64" cx="220.80" cy="178.80" r="2.236"/><circle class="o64" cx="175.20" cy="183.92" r="2.236"/><circle class="o64" cx="122.88" cy="170.80" r="2.236"/><circle class="o64" cx="101.98" cy="221.29" r="2.236"/><circle class="o64" cx="277.58" cy="326.68" r="2.236"/><circle class="o64" cx="255.52" cy="168.88" r="2.236"/><circle class="o64" cx="253.28" cy="175.60" r="2.236"/><circle class="o65" cx="223.95" cy="192.30" r="2.236"/><circle class="o65" cx="239.01" cy="188.80" r="2.236"/><circle class="o65" cx="209.28" cy="176.08" r="2.236"/><circle class="o65" cx="297.60" cy="294.90" r="2.236"/><circle class="o65" cx="305.72" cy="298.40" r="2.236"/><circle class="o65" cx="129.12" cy="172.40" r="2.236"/><circle class="o65" cx="125.92" cy="311.48" r="2.236"/><circle class="o65" cx="243.20" cy="180.40" r="2.236"/><circle class="o65" cx="216.60" cy="194.40" r="2.236"/><circle class="o66" cx="92.32" cy="171.28" r="2.236"/><circle class="o66" cx="148.80" cy="183.12" r="2.236"/><circle class="o66" cx="201.21" cy="202.80" r="2.236"/><circle class="o66" cx="109.05" cy="225.40" r="2.236"/><circle class="o66" cx="122.80" cy="270.15" r="2.236"/><circle class="o66" cx="232.00" cy="193.70" r="2.236"/><circle class="o66" cx="233.40" cy="188.10" r="2.236"/><circle class="o66" cx="131.20" cy="180.40" r="2.236"/><circle class="o66" cx="208.20" cy="198.60" r="2.236"/><circle class="o66" cx="247.20" cy="183.12" r="2.236"/><circle class="o66" cx="144.80" cy="177.20" r="2.236"/><circle class="o66" cx="182.30" cy="203.15" r="2.236"/><circle class="o66" cx="132.00" cy="177.68" r="2.236"/><circle class="o67" cx="204.35" cy="207.00" r="2.236"/><circle class="o67" cx="146.40" cy="176.08" r="2.236"/><circle class="o67" cx="280.80" cy="171.28" r="2.236"/><circle class="o67" cx="224.30" cy="187.40" r="2.236"/><circle class="o67" cx="288.92" cy="285.52" r="2.236"/><circle class="o67" cx="115.68" cy="178.80" r="2.236"/><circle class="o67" cx="302.22" cy="290.00" r="2.236"/><circle class="o67" cx="130.40" cy="295.20" r="2.236"/><circle class="o67" cx="112.47" cy="224.71" r="2.236"/><circle class="o67" cx="228.15" cy="193.70" r="2.236"/><circle class="o67" cx="147.30" cy="200.35" r="2.236"/><circle class="o67" cx="105.28" cy="184.40" r="2.236"/><circle class="o67" cx="271.98" cy="306.80" r="2.236"/><circle class="o67" cx="95.36" cy="193.12" r="2.236"/><circle class="o67" cx="257.52" cy="305.32" r="2.236"/><circle class="o68" cx="126.00" cy="278.00" r="2.236"/><circle class="o68" cx="222.90" cy="202.10" r="2.236"/><circle class="o68" cx="139.20" cy="182.80" r="2.236"/><circle class="o68" cx="126.00" cy="282.00" r="2.236"/><circle class="o68" cx="267.08" cy="321.08" r="2.236"/><circle class="o68" cx="253.60" cy="292.80" r="2.236"/><circle class="o68" cx="118.17" cy="248.44" r="2.236"/><circle class="o68" cx="123.15" cy="267.70" r="2.236"/><circle class="o68" cx="103.12" cy="186.62" r="2.236"/><circle class="o69" cx="248.45" cy="195.80" r="2.236"/><circle class="o69" cx="128.80" cy="284.00" r="2.236"/><circle class="o69" cx="231.30" cy="221.95" r="2.236"/><circle class="o69" cx="266.10" cy="296.30" r="2.236"/><circle class="o69" cx="292.99" cy="270.09" r="2.236"/><circle class="o69" cx="257.55" cy="189.50" r="2.236"/><circle class="o69" cx="266.80" cy="302.60" r="2.236"/><circle class="o69" cx="227.10" cy="201.75" r="2.236"/><circle class="o69" cx="242.86" cy="209.10" r="2.236"/><circle class="o69" cx="224.30" cy="223.00" r="2.236"/><circle class="o69" cx="251.50" cy="314.70" r="2.236"/><circle class="o69" cx="212.75" cy="193.70" r="2.236"/><circle class="o69" cx="255.10" cy="265.60" r="2.236"/><circle class="o69" cx="219.40" cy="205.25" r="2.236"/><circle class="o69" cx="137.50" cy="211.90" r="2.236"/><circle class="o69" cx="251.20" cy="287.20" r="2.236"/><circle class="o70" cx="253.00" cy="190.20" r="2.236"/><circle class="o70" cx="236.56" cy="209.45" r="2.236"/><circle class="o70" cx="152.91" cy="193.70" r="2.236"/><circle class="o70" cx="155.71" cy="197.90" r="2.236"/><circle class="o70" cx="201.91" cy="198.60" r="2.236"/><circle class="o70" cx="123.85" cy="201.40" r="2.236"/><circle class="o70" cx="217.48" cy="324.92" r="2.236"/><circle class="o70" cx="169.00" cy="203.85" r="2.236"/><circle class="o70" cx="281.50" cy="277.40" r="2.236"/><circle class="o70" cx="254.05" cy="199.65" r="2.236"/><circle class="o70" cx="107.91" cy="191.41" r="2.236"/><circle class="o70" cx="124.90" cy="246.70" r="2.236"/><circle class="o71" cx="117.03" cy="227.34" r="2.236"/><circle class="o71" cx="131.20" cy="196.15" r="2.236"/><circle class="o71" cx="213.70" cy="352.08" r="2.236"/><circle class="o71" cx="222.90" cy="209.10" r="2.236"/><circle class="o71" cx="224.30" cy="212.95" r="2.236"/><circle class="o71" cx="215.20" cy="213.30" r="2.236"/><circle class="o71" cx="201.21" cy="223.00" r="2.236"/><circle class="o71" cx="215.55" cy="236.30" r="2.236"/><circle class="o71" cx="128.05" cy="261.40" r="2.236"/><circle class="o71" cx="216.95" cy="217.40" r="2.236"/><circle class="o71" cx="236.10" cy="328.00" r="2.236"/><circle class="o71" cx="173.55" cy="202.10" r="2.236"/><circle class="o71" cx="166.90" cy="217.40" r="2.236"/><circle class="o71" cx="237.64" cy="314.42" r="2.236"/><circle class="o71" cx="290.14" cy="255.83" r="2.236"/><circle class="o71" cx="209.25" cy="201.40" r="2.236"/><circle class="o71" cx="243.60" cy="298.00" r="2.236"/><circle class="o71" cx="292.99" cy="272.22" r="2.236"/><circle class="o71" cx="106.54" cy="204.18" r="2.236"/><circle class="o71" cx="240.41" cy="216.70" r="2.236"/><circle class="o71" cx="251.60" cy="258.95" r="2.236"/><circle class="o72" cx="270.50" cy="211.90" r="2.236"/><circle class="o72" cx="132.25" cy="202.45" r="2.236"/><circle class="o72" cx="258.40" cy="277.20" r="2.236"/><circle class="o72" cx="245.20" cy="303.50" r="2.236"/><circle class="o72" cx="118.75" cy="191.41" r="2.236"/><circle class="o72" cx="233.40" cy="217.05" r="2.236"/><circle class="o72" cx="282.06" cy="268.40" r="2.236"/><circle class="o72" cx="239.01" cy="214.00" r="2.236"/><circle class="o72" cx="265.25" cy="272.95" r="2.236"/><circle class="o72" cx="189.30" cy="222.30" r="2.236"/><circle class="o72" cx="123.50" cy="244.35" r="2.236"/><circle class="o72" cx="239.88" cy="304.20" r="2.236"/><circle class="o72" cx="257.55" cy="204.20" r="2.236"/><circle class="o72" cx="277.86" cy="258.25" r="2.236"/><circle class="o72" cx="105.63" cy="196.88" r="2.236"/><circle class="o72" cx="129.10" cy="272.95" r="2.236"/><circle class="o72" cx="261.75" cy="270.15" r="2.236"/><circle class="o72" cx="254.40" cy="259.65" r="2.236"/><circle class="o72" cx="240.00" cy="284.00" r="2.236"/><circle class="o72" cx="117.60" cy="209.09" r="2.236"/><circle class="o72" cx="165.85" cy="210.85" r="2.236"/><circle class="o72" cx="189.19" cy="329.68" r="2.236"/><circle class="o72" cx="220.70" cy="333.88" r="2.236"/><circle class="o72" cx="186.15" cy="221.60" r="2.236"/><circle class="o72" cx="244.00" cy="285.60" r="2.236"/><circle class="o73" cx="274.50" cy="278.10" r="2.236"/><circle class="o73" cx="271.20" cy="274.35" r="2.236"/><circle class="o73" cx="238.20" cy="303.50" r="2.236"/><circle class="o73" cx="127.70" cy="236.30" r="2.236"/><circle class="o73" cx="169.35" cy="208.05" r="2.236"/><circle class="o73" cx="159.91" cy="208.40" r="2.236"/><circle class="o73" cx="264.55" cy="199.65" r="2.236"/><circle class="o73" cx="191.75" cy="211.20" r="2.236"/><circle class="o73" cx="136.45" cy="201.75" r="2.236"/><circle class="o73" cx="192.70" cy="351.52" r="2.236"/><circle class="o73" cx="206.10" cy="210.85" r="2.236"/><circle class="o73" cx="256.50" cy="212.25" r="2.236"/><circle class="o73" cx="261.40" cy="267.00" r="2.236"/><circle class="o73" cx="235.86" cy="223.00" r="2.236"/><circle class="o73" cx="219.05" cy="225.10" r="2.236"/><circle class="o73" cx="114.18" cy="197.34" r="2.236"/><circle class="o73" cx="215.55" cy="225.10" r="2.236"/><circle class="o73" cx="236.21" cy="225.80" r="2.236"/><circle class="o73" cx="164.80" cy="203.85" r="2.236"/><circle class="o73" cx="220.70" cy="313.58" r="2.236"/><circle class="o73" cx="302.96" cy="260.11" r="2.236"/><circle class="o73" cx="263.50" cy="263.50" r="2.236"/><circle class="o73" cx="175.65" cy="221.95" r="2.236"/><circle class="o73" cx="265.95" cy="220.90" r="2.236"/><circle class="o73" cx="128.75" cy="254.40" r="2.236"/><circle class="o73" cx="267.35" cy="200.70" r="2.236"/><circle class="o74" cx="196.31" cy="223.70" r="2.236"/><circle class="o74" cx="145.90" cy="214.70" r="2.236"/><circle class="o74" cx="230.40" cy="282.00" r="2.236"/><circle class="o74" cx="229.60" cy="291.60" r="2.236"/><circle class="o74" cx="210.90" cy="333.88" r="2.236"/><circle class="o74" cx="198.30" cy="325.20" r="2.236"/><circle class="o74" cx="250.90" cy="241.20" r="2.236"/><circle class="o74" cx="124.90" cy="239.45" r="2.236"/><circle class="o74" cx="257.20" cy="272.60" r="2.236"/><circle class="o74" cx="139.25" cy="205.60" r="2.236"/><circle class="o74" cx="284.86" cy="259.65" r="2.236"/><circle class="o74" cx="162.70" cy="208.40" r="2.236"/><circle class="o74" cx="261.40" cy="217.75" r="2.236"/><circle class="o74" cx="253.35" cy="216.70" r="2.236"/><circle class="o74" cx="146.95" cy="223.70" r="2.236"/><circle class="o74" cx="218.60" cy="313.30" r="2.236"/><circle class="o74" cx="225.60" cy="301.12" r="2.236"/><circle class="o74" cx="133.20" cy="277.60" r="2.236"/><circle class="o74" cx="165.50" cy="220.20" r="2.236"/><circle class="o74" cx="220.00" cy="307.70" r="2.236"/><circle class="o75" cx="253.35" cy="214.70" r="2.236"/><circle class="o75" cx="297.69" cy="247.00" r="2.236"/><circle class="o75" cx="225.35" cy="228.60" r="2.236"/><circle class="o75" cx="224.48" cy="308.68" r="2.236"/><circle class="o75" cx="206.80" cy="223.70" r="2.236"/><circle class="o75" cx="267.70" cy="244.35" r="2.236"/><circle class="o75" cx="254.75" cy="221.25" r="2.236"/><circle class="o75" cx="211.00" cy="223.00" r="2.236"/><circle class="o75" cx="249.85" cy="267.70" r="2.236"/><circle class="o75" cx="224.00" cy="297.20" r="2.236"/><circle class="o75" cx="132.60" cy="243.65" r="2.236"/><circle class="o75" cx="149.72" cy="356.28" r="2.236"/><circle class="o75" cx="275.05" cy="256.85" r="2.236"/><circle class="o75" cx="282.76" cy="244.70" r="2.236"/><circle class="o75" cx="203.20" cy="291.60" r="2.236"/><circle class="o75" cx="311.52" cy="247.57" r="2.236"/><circle class="o75" cx="233.20" cy="292.80" r="2.236"/><circle class="o75" cx="174.95" cy="214.00" r="2.236"/><circle class="o75" cx="291.56" cy="237.31" r="2.236"/><circle class="o75" cx="256.50" cy="239.10" r="2.236"/><circle class="o75" cx="219.20" cy="294.00" r="2.236"/><circle class="o75" cx="260.70" cy="250.90" r="2.236"/><circle class="o75" cx="207.12" cy="317.92" r="2.236"/><circle class="o75" cx="264.55" cy="211.90" r="2.236"/><circle class="o75" cx="145.90" cy="216.70" r="2.236"/><circle class="o75" cx="214.68" cy="324.08" r="2.236"/><circle class="o75" cx="266.30" cy="260.00" r="2.236"/><circle class="o75" cx="201.91" cy="218.10" r="2.236"/><circle class="o75" cx="227.10" cy="270.85" r="2.236"/><circle class="o76" cx="172.15" cy="236.65" r="2.236"/><circle class="o76" cx="201.56" cy="227.55" r="2.236"/><circle class="o76" cx="218.60" cy="302.80" r="2.236"/><circle class="o76" cx="143.20" cy="292.80" r="2.236"/><circle class="o76" cx="138.40" cy="277.60" r="2.236"/><circle class="o76" cx="235.51" cy="258.25" r="2.236"/><circle class="o76" cx="299.40" cy="245.86" r="2.236"/><circle class="o76" cx="183.60" cy="286.80" r="2.236"/><circle class="o76" cx="241.81" cy="247.40" r="2.236"/><circle class="o76" cx="240.41" cy="239.10" r="2.236"/><circle class="o76" cx="247.40" cy="257.20" r="2.236"/><circle class="o76" cx="234.11" cy="235.25" r="2.236"/><circle class="o76" cx="223.60" cy="278.40" r="2.236"/><circle class="o76" cx="160.61" cy="223.00" r="2.236"/><circle class="o76" cx="120.35" cy="209.10" r="2.236"/><circle class="o76" cx="234.81" cy="231.75" r="2.236"/><circle class="o76" cx="236.56" cy="251.25" r="2.236"/><circle class="o76" cx="218.35" cy="268.40" r="2.236"/><circle class="o76" cx="150.81" cy="225.10" r="2.236"/><circle class="o76" cx="214.85" cy="251.25" r="2.236"/><circle class="o76" cx="247.40" cy="263.15" r="2.236"/><circle class="o76" cx="143.20" cy="288.80" r="2.236"/><circle class="o76" cx="282.76" cy="246.70" r="2.236"/><circle class="o76" cx="230.80" cy="286.80" r="2.236"/><circle class="o76" cx="244.61" cy="234.20" r="2.236"/><circle class="o77" cx="144.68" cy="307.70" r="2.236"/><circle class="o77" cx="181.60" cy="217.40" r="2.236"/><circle class="o77" cx="248.10" cy="246.70" r="2.236"/><circle class="o77" cx="164.80" cy="234.55" r="2.236"/><circle class="o77" cx="196.20" cy="324.08" r="2.236"/><circle class="o77" cx="226.40" cy="262.45" r="2.236"/><circle class="o77" cx="166.20" cy="239.10" r="2.236"/><circle class="o77" cx="222.90" cy="258.25" r="2.236"/><circle class="o77" cx="199.70" cy="307.70" r="2.236"/><circle class="o77" cx="230.25" cy="257.20" r="2.236"/><circle class="o77" cx="258.95" cy="240.15" r="2.236"/><circle class="o77" cx="261.05" cy="234.55" r="2.236"/><circle class="o77" cx="301.11" cy="243.01" r="2.236"/><circle class="o77" cx="288.71" cy="231.32" r="2.236"/><circle class="o77" cx="244.96" cy="258.25" r="2.236"/><circle class="o77" cx="228.50" cy="248.80" r="2.236"/><circle class="o77" cx="234.81" cy="247.05" r="2.236"/><circle class="o77" cx="230.25" cy="272.60" r="2.236"/><circle class="o77" cx="246.70" cy="234.20" r="2.236"/><circle class="o77" cx="138.55" cy="218.45" r="2.236"/><circle class="o77" cx="254.75" cy="227.20" r="2.236"/><circle class="o78" cx="244.96" cy="262.80" r="2.236"/><circle class="o78" cx="139.95" cy="241.20" r="2.236"/><circle class="o78" cx="300.83" cy="206.95" r="2.236"/><circle class="o78" cx="198.41" cy="248.80" r="2.236"/><circle class="o78" cx="170.30" cy="331.50" r="2.236"/><circle class="o78" cx="200.51" cy="241.90" r="2.236"/><circle class="o78" cx="213.20" cy="276.40" r="2.236"/><circle class="o78" cx="223.60" cy="235.60" r="2.236"/><circle class="o78" cx="210.65" cy="256.50" r="2.236"/><circle class="o78" cx="195.50" cy="309.80" r="2.236"/><circle class="o78" cx="146.80" cy="298.40" r="2.236"/><circle class="o78" cx="193.16" cy="238.40" r="2.236"/><circle class="o78" cx="159.91" cy="227.20" r="2.236"/><circle class="o78" cx="208.20" cy="244.35" r="2.236"/><circle class="o78" cx="175.65" cy="241.20" r="2.236"/><circle class="o78" cx="203.20" cy="301.40" r="2.236"/><circle class="o78" cx="146.60" cy="232.10" r="2.236"/><circle class="o78" cx="187.60" cy="288.80" r="2.236"/><circle class="o78" cx="208.90" cy="246.70" r="2.236"/><circle class="o78" cx="293.70" cy="223.77" r="2.236"/><circle class="o78" cx="209.60" cy="240.15" r="2.236"/><circle class="o78" cx="192.70" cy="324.50" r="2.236"/><circle class="o78" cx="195.20" cy="292.00" r="2.236"/><circle class="o78" cx="190.00" cy="276.80" r="2.236"/><circle class="o78" cx="231.30" cy="240.85" r="2.236"/><circle class="o78" cx="165.40" cy="335.70" r="2.236"/><circle class="o78" cx="242.16" cy="252.30" r="2.236"/><circle class="o78" cx="180.80" cy="281.20" r="2.236"/><circle class="o79" cx="276.81" cy="222.30" r="2.236"/><circle class="o79" cx="171.10" cy="244.70" r="2.236"/><circle class="o79" cx="156.80" cy="298.80" r="2.236"/><circle class="o79" cx="170.72" cy="339.48" r="2.236"/><circle class="o79" cx="184.40" cy="253.35" r="2.236"/><circle class="o79" cx="253.70" cy="233.85" r="2.236"/><circle class="o79" cx="214.15" cy="261.75" r="2.236"/><circle class="o79" cx="158.51" cy="233.50" r="2.236"/><circle class="o79" cx="232.00" cy="253.00" r="2.236"/><circle class="o79" cx="182.80" cy="299.20" r="2.236"/><circle class="o79" cx="179.50" cy="227.90" r="2.236"/><circle class="o79" cx="210.00" cy="290.40" r="2.236"/><circle class="o79" cx="182.20" cy="301.12" r="2.236"/><circle class="o79" cx="299.40" cy="223.77" r="2.236"/><circle class="o79" cx="150.70" cy="301.12" r="2.236"/><circle class="o79" cx="139.95" cy="229.65" r="2.236"/><circle class="o79" cx="223.60" cy="261.05" r="2.236"/><circle class="o79" cx="154.62" cy="338.92" r="2.236"/><circle class="o79" cx="239.01" cy="244.35" r="2.236"/><circle class="o79" cx="211.60" cy="286.80" r="2.236"/><circle class="o79" cx="286.26" cy="231.05" r="2.236"/><circle class="o79" cx="215.55" cy="231.05" r="2.236"/><circle class="o79" cx="197.01" cy="266.30" r="2.236"/><circle class="o79" cx="160.40" cy="280.80" r="2.236"/><circle class="o79" cx="228.85" cy="237.00" r="2.236"/><circle class="o80" cx="152.52" cy="317.08" r="2.236"/><circle class="o80" cx="139.95" cy="249.50" r="2.236"/><circle class="o80" cx="137.85" cy="234.55" r="2.236"/><circle class="o80" cx="179.68" cy="323.80" r="2.236"/><circle class="o80" cx="221.85" cy="264.20" r="2.236"/><circle class="o80" cx="146.50" cy="300.70" r="2.236"/><circle class="o80" cx="201.91" cy="254.75" r="2.236"/><circle class="o80" cx="186.85" cy="242.25" r="2.236"/><circle class="o80" cx="141.35" cy="235.25" r="2.236"/><circle class="o80" cx="294.41" cy="234.17" r="2.236"/><circle class="o80" cx="136.80" cy="238.40" r="2.236"/><circle class="o80" cx="184.40" cy="239.10" r="2.236"/><circle class="o80" cx="128.75" cy="221.95" r="2.236"/><circle class="o80" cx="144.50" cy="263.85" r="2.236"/><circle class="o80" cx="169.00" cy="268.75" r="2.236"/><circle class="o80" cx="269.80" cy="228.25" r="2.236"/><circle class="o80" cx="184.29" cy="304.90" r="2.236"/><circle class="o80" cx="161.90" cy="313.30" r="2.236"/><circle class="o81" cx="140.65" cy="256.15" r="2.236"/><circle class="o81" cx="145.52" cy="305.60" r="2.236"/><circle class="o81" cx="156.41" cy="247.75" r="2.236"/><circle class="o81" cx="170.30" cy="329.40" r="2.236"/><circle class="o81" cx="171.10" cy="246.70" r="2.236"/><circle class="o81" cx="143.10" cy="254.40" r="2.236"/><circle class="o81" cx="317.22" cy="223.77" r="2.236"/><circle class="o81" cx="151.86" cy="241.55" r="2.236"/><circle class="o81" cx="298.26" cy="231.32" r="2.236"/><circle class="o81" cx="276.46" cy="229.30" r="2.236"/><circle class="o81" cx="185.60" cy="284.00" r="2.236"/><circle class="o81" cx="172.12" cy="306.30" r="2.236"/><circle class="o81" cx="281.01" cy="224.40" r="2.236"/><circle class="o81" cx="156.76" cy="242.25" r="2.236"/><circle class="o81" cx="182.65" cy="256.50" r="2.236"/><circle class="o81" cx="320.49" cy="219.92" r="2.236"/><circle class="o81" cx="196.66" cy="262.10" r="2.236"/><circle class="o82" cx="145.20" cy="272.95" r="2.236"/><circle class="o82" cx="218.35" cy="253.00" r="2.236"/><circle class="o82" cx="168.80" cy="284.80" r="2.236"/><circle class="o82" cx="170.40" cy="288.00" r="2.236"/><circle class="o82" cx="165.50" cy="249.50" r="2.236"/><circle class="o82" cx="158.68" cy="317.92" r="2.236"/><circle class="o82" cx="165.15" cy="266.65" r="2.236"/><circle class="o82" cx="180.90" cy="248.80" r="2.236"/><circle class="o82" cx="155.20" cy="296.00" r="2.236"/><circle class="o83" cx="189.65" cy="274.35" r="2.236"/><circle class="o83" cx="185.80" cy="263.15" r="2.236"/><circle class="o83" cx="163.05" cy="261.75" r="2.236"/><circle class="o83" cx="159.10" cy="311.20" r="2.236"/><circle class="o83" cx="154.20" cy="300.70" r="2.236"/><circle class="o83" cx="193.86" cy="272.25" r="2.236"/><circle class="o84" cx="174.00" cy="281.60" r="2.236"/><circle class="o84" cx="165.60" cy="292.40" r="2.236"/><circle class="o84" cx="177.75" cy="273.30" r="2.236"/><circle class="o84" cx="171.10" cy="259.65" r="2.236"/><circle class="o85" cx="174.95" cy="259.65" r="2.236"/><circle class="o85" cx="174.60" cy="265.60" r="2.236"/><circle class="o85" cx="152.21" cy="262.45" r="2.236"/><circle class="o86" cx="187.55" cy="258.25" r="2.236"/><circle class="o86" cx="166.40" cy="284.00" r="2.236"/><circle class="o86" cx="150.11" cy="269.80" r="2.236"/><circle class="o87" cx="156.40" cy="282.40" r="2.236"/></g></g>
<g id="legend_1">
    <g id="patch_6">
     <path d="M 279.38 154.91 L 346.97 154.91 Q 348.97 154.91 348.97 152.91 L 348.97 94.6 Q 348.97 92.6 346.97 92.6 L 279.38 92.6 Q 277.38 92.6 277.38 94.6 L 277.38 152.91 Q 277.38 154.91 279.38 154.91 z" style="fill: #ffffff; opacity: 0.8; stroke: #cccccc; stroke-linejoin: miter"/>
    </g>
    <g id="Path3DCollection_1">
     <defs>
      <path id="me035f7839a" d="M 0 2.236068 
C 0.593012 2.236068 1.161816 2.000462 1.581139 1.581139 
C 2.000462 1.161816 2.236068 0.593012 2.236068 0 
C 2.236068 -0.593012 2.000462 -1.161816 1.581139 -1.581139 
C 1.161816 -2.000462 0.593012 -2.236068 0 -2.236068 
C -0.593012 -2.236068 -1.161816 -2.000462 -1.581139 -1.581139 
C -2.000462 -1.161816 -2.236068 -0.593012 -2.236068 0 
C -2.236068 0.593012 -2.000462 1.161816 -1.581139 1.581139 
C -1.161816 2.000462 -0.593012 2.236068 0 2.236068 
z
" style="stroke: #1f77b4"/>
     </defs>
     <g>
      <use href="#me035f7839a" x="291.3465" y="101.7837" style="fill: #1f77b4; stroke: #1f77b4"/>
     </g>
    </g>
    <g id="text_23">
     <!-- Label 2 -->
     <g transform="translate(308.536511 103.9287) scale(0.1 -0.1)">
      <use href="#DejaVuSans-4c"/>
      <use href="#DejaVuSans-61" transform="translate(55.712891 0)"/>
      <use href="#DejaVuSans-62" transform="translate(116.992188 0)"/>
      <use href="#DejaVuSans-65" transform="translate(180.46875 0)"/>
      <use href="#DejaVuSans-6c" transform="translate(241.992188 0)"/>
      <use href="#DejaVuSans-20" transform="translate(269.775391 0)"/>
      <use href="#DejaVuSans-32" transform="translate(301.5625 0)"/>
     </g>
    </g>
    <g id="Path3DCollection_2">
     <defs>
      <path id="mb728171483" d="M 0 2.236068 
C 0.593012 2.236068 1.161816 2.000462 1.581139 1.581139 
C 2.000462 1.161816 2.236068 0.593012 2.236068 0 
C 2.236068 -0.593012 2.000462 -1.161816 1.581139 -1.581139 
C 1.161816 -2.000462 0.593012 -2.236068 0 -2.236068 
C -0.593012 -2.236068 -1.161816 -2.000462 -1.581139 -1.581139 
C -2.000462 -1.161816 -2.236068 -0.593012 -2.236068 0 
C -2.236068 0.593012 -2.000462 1.161816 -1.581139 1.581139 
C -1.161816 2.000462 -0.593012 2.236068 0 2.236068 
z
" style="stroke: #d62728"/>
     </defs>
     <g>
      <use href="#mb728171483" x="291.3465" y="116.6618" style="fill: #d62728; stroke: #d62728"/>
     </g>
    </g>
    <g id="text_24">
     <!-- Label 1 -->
     <g transform="translate(308.536511 118.8068) scale(0.1 -0.1)">
      <use href="#DejaVuSans-4c"/>
      <use href="#DejaVuSans-61" transform="translate(55.712891 0)"/>
      <use href="#DejaVuSans-62" transform="translate(116.992188 0)"/>
      <use href="#DejaVuSans-65" transform="translate(180.46875 0)"/>
      <use href="#DejaVuSans-6c" transform="translate(241.992188 0)"/>
      <use href="#DejaVuSans-20" transform="translate(269.775391 0)"/>
      <use href="#DejaVuSans-31" transform="translate(301.5625 0)"/>
     </g>
    </g>
    <g id="Path3DCollection_3">
     <defs>
      <path id="m9877bbc816" d="M 0 2.236068 
C 0.593012 2.236068 1.161816 2.000462 1.581139 1.581139 
C 2.000462 1.161816 2.236068 0.593012 2.236068 0 
C 2.236068 -0.593012 2.000462 -1.161816 1.581139 -1.581139 
C 1.161816 -2.000462 0.593012 -2.236068 0 -2.236068 
C -0.593012 -2.236068 -1.161816 -2.000462 -1.581139 -1.581139 
C -2.000462 -1.161816 -2.236068 -0.593012 -2.236068 0 
C -2.236068 0.593012 -2.000462 1.161816 -1.581139 1.581139 
C -1.161816 2.000462 -0.593012 2.236068 0 2.236068 
z
" style="stroke: #e377c2"/>
     </defs>
     <g>
      <use href="#m9877bbc816" x="291.3465" y="131.5400" style="fill: #e377c2; stroke: #e377c2"/>
     </g>
    </g>
    <g id="text_25">
     <!-- Label 0 -->
     <g transform="translate(308.536511 133.6850) scale(0.1 -0.1)">
      <use href="#DejaVuSans-4c"/>
      <use href="#DejaVuSans-61" transform="translate(55.712891 0)"/>
      <use href="#DejaVuSans-62" transform="translate(116.992188 0)"/>
      <use href="#DejaVuSans-65" transform="translate(180.46875 0)"/>
      <use href="#DejaVuSans-6c" transform="translate(241.992188 0)"/>
      <use href="#DejaVuSans-20" transform="translate(269.775391 0)"/>
      <use href="#DejaVuSans-30" transform="translate(301.5625 0)"/>
     </g>
    </g>
    <g id="Path3DCollection_4">
     <defs>
      <path id="m2063b1870a" d="M 0 2.236068 
C 0.593012 2.236068 1.161816 2.000462 1.581139 1.581139 
C 2.000462 1.161816 2.236068 0.593012 2.236068 0 
C 2.236068 -0.593012 2.000462 -1.161816 1.581139 -1.581139 
C 1.161816 -2.000462 0.593012 -2.236068 0 -2.236068 
C -0.593012 -2.236068 -1.161816 -2.000462 -1.581139 -1.581139 
C -2.000462 -1.161816 -2.236068 -0.593012 -2.236068 0 
C -2.236068 0.593012 -2.000462 1.161816 -1.581139 1.581139 
C -1.161816 2.000462 -0.593012 2.236068 0 2.236068 
z
" style="stroke: #17becf"/>
     </defs>
     <g>
      <use href="#m2063b1870a" x="291.3465" y="146.4181" style="fill: #17becf; stroke: #17becf"/>
     </g>
    </g>
    <g id="text_26">
     <!-- Label 3 -->
     <g transform="translate(308.536511 148.5631) scale(0.1 -0.1)">
      <use href="#DejaVuSans-4c"/>
      <use href="#DejaVuSans-61" transform="translate(55.712891 0)"/>
      <use href="#DejaVuSans-62" transform="translate(116.992188 0)"/>
      <use href="#DejaVuSans-65" transform="translate(180.46875 0)"/>
      <use href="#DejaVuSans-6c" transform="translate(241.992188 0)"/>
      <use href="#DejaVuSans-20" transform="translate(269.775391 0)"/>
      <use href="#DejaVuSans-33" transform="translate(301.5625 0)"/>
     </g>
    </g>
   </g>
  </g>
 </g>
</svg>

</body></html>
